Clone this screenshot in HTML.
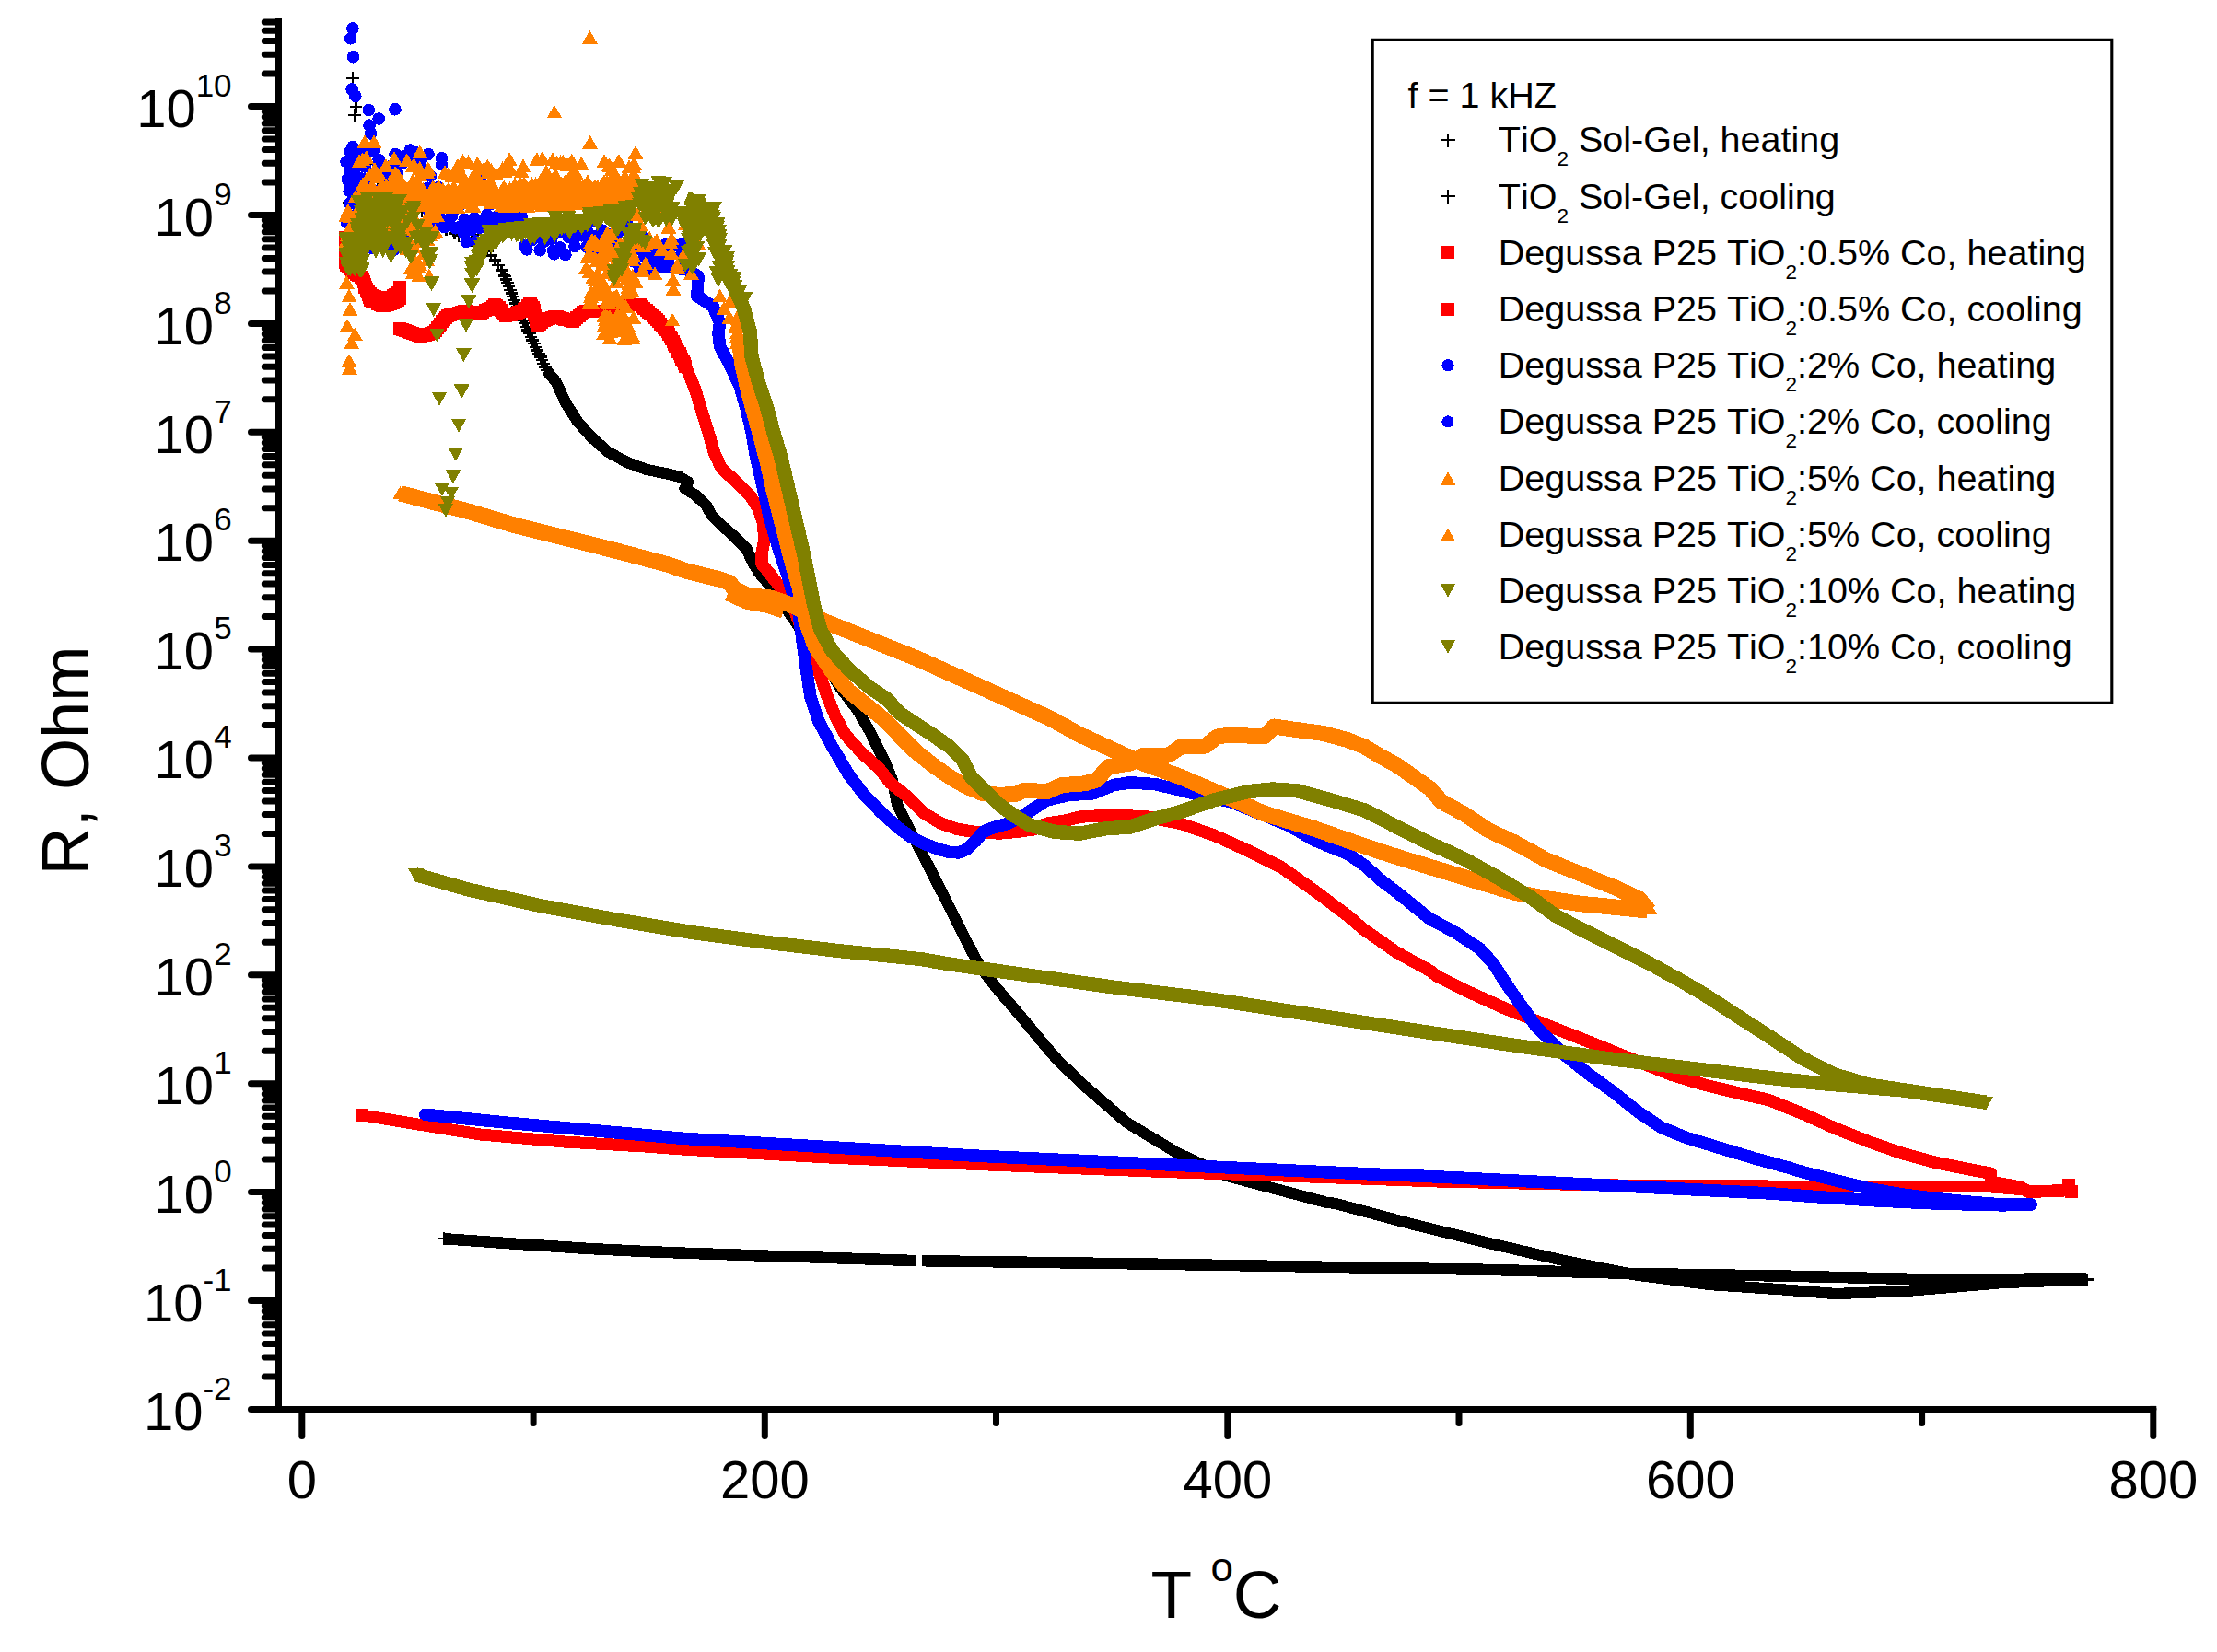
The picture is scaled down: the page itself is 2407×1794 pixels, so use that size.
<!DOCTYPE html>
<html lang="en"><head><meta charset="utf-8"><title>R vs T</title>
<style>html,body{margin:0;padding:0;background:#fff}svg{display:block}</style></head>
<body>
<svg width="2407" height="1794" viewBox="0 0 2407 1794">
<rect width="2407" height="1794" fill="#fff"/>
<g fill="none" stroke-linejoin="round" stroke-linecap="butt" shape-rendering="crispEdges">
<path d="M376.2 85h13.6M383 78.2v13.6M379.7 116h13.6M386.5 109.2v13.6M377.9 125h13.6M384.7 118.2v13.6M372.2 220h13.6M379 213.2v13.6M374.2 224h13.6M381 217.2v13.6M413.2 184h13.6M420 177.2v13.6M456.7 207h13.6M463.5 200.2v13.6M436.7 227h13.6M443.5 220.2v13.6M451.2 229h13.6M458 222.2v13.6M459.2 214h13.6M466 207.2v13.6M395.2 178h13.6M402 171.2v13.6M403.2 196h13.6M410 189.2v13.6M467.2 238h13.6M474 231.2v13.6M477.6 249h13.6M484.4 242.2v13.6M486.7 253.5h13.6M493.5 246.7v13.6M496.6 257h13.6M503.4 250.2v13.6M505.7 260.8h13.6M512.5 254v13.6M512.2 255.3h13.6M519 248.5v13.6M501.2 259h13.6M508 252.2v13.6M491.2 256h13.6M498 249.2v13.6M507.5 260h13.6M514.3 253.2v13.6M512.6 264h13.6M519.4 257.2v13.6M517.7 268h13.6M524.5 261.2v13.6M522.3 272.6h13.6M529.1 265.8v13.6M526.5 277.6h13.6M533.3 270.8v13.6M530.6 282.6h13.6M537.4 275.8v13.6M534.4 287.9h13.6M541.2 281.1v13.6M537.6 293.5h13.6M544.4 286.7v13.6M540.8 299.1h13.6M547.6 292.3v13.6M541.2 299.8h13.6M548 293v13.6M542.7 303.5h13.6M549.5 296.7v13.6M544.2 307.2h13.6M551 300.4v13.6M545.6 311h13.6M552.4 304.2v13.6M547.1 314.7h13.6M553.9 307.9v13.6M548.6 318.4h13.6M555.4 311.6v13.6M550.1 322.1h13.6M556.9 315.3v13.6M551.6 325.8h13.6M558.4 319v13.6M553.2 329.5h13.6M560 322.7v13.6M554.8 333.1h13.6M561.6 326.3v13.6M556.5 336.8h13.6M563.3 330v13.6M558.1 340.4h13.6M564.9 333.6v13.6M559.8 344h13.6M566.6 337.2v13.6M561.4 347.7h13.6M568.2 340.9v13.6M563.1 351.3h13.6M569.9 344.5v13.6M564.7 355h13.6M571.5 348.2v13.6M566.3 358.6h13.6M573.1 351.8v13.6M568 362.3h13.6M574.8 355.5v13.6M569.6 365.9h13.6M576.4 359.1v13.6M571.4 369.5h13.6M578.2 362.7v13.6M573.1 373.2h13.6M579.9 366.4v13.6M574.8 376.8h13.6M581.6 370v13.6M576.5 380.4h13.6M583.3 373.6v13.6M578.2 384h13.6M585 377.2v13.6M579.9 387.6h13.6M586.7 380.8v13.6M581.6 391.2h13.6M588.4 384.4v13.6M583.3 394.8h13.6M590.1 388v13.6M585 398.5h13.6M591.8 391.7v13.6M586.8 402.1h13.6M593.6 395.3v13.6M589.1 405.3h13.6M595.9 398.5v13.6M591.7 408.4h13.6M598.5 401.6v13.6M594.2 411.4h13.6M601 404.6v13.6M596.8 414.5h13.6M603.6 407.7v13.6" stroke="#000" stroke-width="2.3"/>
<polyline points="594,403 603.6,414.5 614.5,438 627.2,458 641.8,474.4 660,490.7 681.7,502.5 701.7,509.8 723.5,514.3 738,518 747,523.4 743.4,530.7 754.3,537 767,548.8 772.5,559.7 781.6,568.8 796,581.5 810.6,596 817,610.6 825,623.3 836,636 896,721.7 912.5,747 930.7,770.7 943.4,792.5 952.4,810.6 961.5,828.8 968.8,847 974.2,874 981.5,888.7 990.8,907 1012.6,949 1030.8,985.3 1049,1021.6 1063.5,1048.9 1081.6,1072.5 1103.4,1097.9 1121.6,1119.7 1139.7,1141.5 1151,1154 1177.9,1179.6 1223.3,1219 1277.4,1251.6 1331.5,1276.8 1385.7,1291.3 1439.8,1305.7 1450,1307 1531,1328.8 1612.4,1349 1693.6,1368 1774.8,1384.3 1856,1395 1937,1400.5 1992.6,1405 2065.3,1402.3 2119.7,1397.8 2174.2,1393 2228.7,1391 2265,1390.5" stroke="#000" stroke-width="12.3" stroke-linecap="butt"/>
<path d="M2259.2 1389.6h13.6M2266 1382.8v13.6" stroke="#000" stroke-width="2.3"/>
<polyline points="482,1345.2 557.9,1350.6 639.6,1356 700,1359 739.5,1360.6 988.7,1368.9 994.5,1369" stroke="#000" stroke-width="12.5" stroke-linecap="butt"/>
<polyline points="1001,1369.2 1241.3,1372.5 1450,1376 1612.4,1378.8 1774.8,1383 1937,1385.6 2050,1388.3 2101.6,1389.5 2174.2,1389 2265,1388" stroke="#000" stroke-width="12.5" stroke-linecap="butt"/>
<path d="M475.2 1345.2h13.6M482 1338.4v13.6" stroke="#000" stroke-width="2.3"/>
<path d="M368 251h14v14h-14zM368 254h14v14h-14zM368 257h14v14h-14zM368 260h14v14h-14zM368 263h14v14h-14zM368 266h14v14h-14zM368 269h14v14h-14zM368 272h14v14h-14zM368 275h14v14h-14zM368 278h14v14h-14zM368.7 280.7h14v14h-14zM371 282.7h14v14h-14zM373.2 284.7h14v14h-14zM375.4 286.7h14v14h-14zM377.7 288.7h14v14h-14zM380 290.6h14v14h-14zM382.4 292.4h14v14h-14zM384.7 294.3h14v14h-14zM387.1 296.2h14v14h-14zM388.2 298.9h14v14h-14zM389 301.7h14v14h-14zM389.8 304.6h14v14h-14zM390.6 307.5h14v14h-14zM391.5 310.4h14v14h-14zM392.7 313.1h14v14h-14zM393.8 315.9h14v14h-14zM394.9 318.7h14v14h-14zM397.4 320.1h14v14h-14zM400.2 321.4h14v14h-14zM402.9 322.7h14v14h-14zM405.6 323.9h14v14h-14zM408.3 325.2h14v14h-14zM411.2 324.9h14v14h-14zM414.1 324.1h14v14h-14zM417 323.3h14v14h-14zM419.6 321.9h14v14h-14zM422 320.2h14v14h-14zM424.5 318.5h14v14h-14zM426.9 316.7h14v14h-14zM427.3 314h14v14h-14zM427.2 311h14v14h-14zM427.1 308h14v14h-14zM427 305h14v14h-14z" fill="#ff0000" stroke="none"/>
<path d="M389 305h14v14h-14zM391 307.2h14v14h-14zM393 309.5h14v14h-14zM395 311.7h14v14h-14zM397 314h14v14h-14zM399.8 314.9h14v14h-14zM402.7 315.9h14v14h-14zM405.5 316.8h14v14h-14zM408.3 317.8h14v14h-14zM411.2 317.3h14v14h-14zM414.1 316.5h14v14h-14zM417 315.6h14v14h-14zM419.7 314.4h14v14h-14zM421.9 312.5h14v14h-14zM424.2 310.5h14v14h-14z" fill="#ff0000" stroke="none"/>
<path d="M427 350h14v14h-14zM429.8 351h14v14h-14zM432.6 352.1h14v14h-14zM435.5 353.1h14v14h-14zM438.3 354.1h14v14h-14zM441.1 355.1h14v14h-14zM443.9 356.2h14v14h-14zM446.7 357.2h14v14h-14zM449.6 357.9h14v14h-14zM452.5 357.2h14v14h-14zM455.4 356.5h14v14h-14zM458.3 355.8h14v14h-14zM461.3 355.2h14v14h-14zM464 354.2h14v14h-14zM465.8 351.8h14v14h-14zM467.6 349.4h14v14h-14zM469.5 347h14v14h-14zM471.3 344.7h14v14h-14zM473.2 342.3h14v14h-14zM475.1 340h14v14h-14zM477 337.7h14v14h-14zM479.3 336h14v14h-14zM482.2 335.2h14v14h-14zM485.1 334.3h14v14h-14zM487.9 333.5h14v14h-14zM490.8 332.6h14v14h-14zM493.7 331.8h14v14h-14zM496.6 331h14v14h-14zM499.6 331.3h14v14h-14zM502.5 331.6h14v14h-14zM505.5 331.9h14v14h-14zM508.5 332.2h14v14h-14zM511.5 332.5h14v14h-14zM514.5 332.8h14v14h-14zM517.2 331.6h14v14h-14zM520 330.4h14v14h-14zM522.7 329.1h14v14h-14zM525.2 327.5h14v14h-14zM527.7 325.9h14v14h-14zM530.2 324.2h14v14h-14zM532.4 325.2h14v14h-14zM534.5 327.4h14v14h-14zM536.6 329.5h14v14h-14zM538.4 331.9h14v14h-14zM540.2 334.3h14v14h-14zM542.2 336.3h14v14h-14zM545 335.4h14v14h-14zM547.9 334.5h14v14h-14zM550.8 333.7h14v14h-14zM553.6 332.8h14v14h-14zM556.4 331.6h14v14h-14zM559.2 330.5h14v14h-14zM562 329.4h14v14h-14zM564.1 327.5h14v14h-14zM565.9 325.1h14v14h-14zM567.7 322.7h14v14h-14zM569.3 321.8h14v14h-14zM570.4 324.6h14v14h-14zM571.6 327.4h14v14h-14zM572.7 330.2h14v14h-14zM573.4 333.1h14v14h-14zM573.9 336h14v14h-14zM574.5 339h14v14h-14zM575.1 341.9h14v14h-14zM575.6 344.9h14v14h-14zM576.6 346.4h14v14h-14zM578.9 344.5h14v14h-14zM581.2 342.5h14v14h-14zM583.6 340.8h14v14h-14zM586.4 339.8h14v14h-14zM589.2 338.8h14v14h-14zM592.1 337.8h14v14h-14zM594.9 336.8h14v14h-14zM597.8 336.9h14v14h-14zM600.6 337.8h14v14h-14zM603.5 338.6h14v14h-14zM606.4 339.5h14v14h-14zM609.3 340.4h14v14h-14zM612.1 341.2h14v14h-14zM614.9 341.5h14v14h-14zM617.1 339.5h14v14h-14zM619.3 337.5h14v14h-14zM621.6 335.5h14v14h-14zM623.9 333.6h14v14h-14zM626.2 331.7h14v14h-14zM629 331h14v14h-14zM632 331h14v14h-14zM635 331h14v14h-14zM638 331h14v14h-14zM641 331h14v14h-14zM644 331h14v14h-14zM647 331h14v14h-14zM650 331h14v14h-14zM652.9 330.4h14v14h-14zM655.8 329.6h14v14h-14zM658.7 328.8h14v14h-14zM661.6 328h14v14h-14zM664.4 327.2h14v14h-14zM667.3 326.4h14v14h-14zM670.3 325.7h14v14h-14zM673.2 324.9h14v14h-14zM676.1 324.2h14v14h-14zM679 323.7h14v14h-14zM682 323.7h14v14h-14zM685 323.7h14v14h-14zM687.8 324.4h14v14h-14zM690.1 326.3h14v14h-14zM692.4 328.2h14v14h-14zM694.6 330.2h14v14h-14zM696.9 332.1h14v14h-14zM699.2 334h14v14h-14zM701.5 336h14v14h-14zM703.7 338.1h14v14h-14zM705.8 340.2h14v14h-14zM707.9 342.3h14v14h-14zM710 344.5h14v14h-14zM712.1 346.6h14v14h-14zM714.2 348.7h14v14h-14zM716.3 350.8h14v14h-14zM717.8 353.4h14v14h-14zM719.3 356.1h14v14h-14zM720.7 358.7h14v14h-14zM722.1 361.3h14v14h-14zM723.6 364h14v14h-14zM725 366.6h14v14h-14zM726.4 369.2h14v14h-14zM727.8 371.9h14v14h-14zM729.2 374.6h14v14h-14zM730.5 377.3h14v14h-14zM731.8 380h14v14h-14zM733.2 382.7h14v14h-14zM734.5 385.3h14v14h-14zM735.8 388h14v14h-14zM737.2 390.7h14v14h-14z" fill="#ff0000" stroke="none"/>
<polyline points="734.4,378 745.3,400 754.3,421.7 761.6,445.3 768.9,469 775.2,490.7 783.4,508.9 799.7,523.4 814.2,538 823.3,552.5 828.8,568.8 829.7,587 827,601.5 827,612.4 836,623.3 847,637.8 858,650 867,674.5 881.6,701.7 888.9,729 898,756 907,778 917.9,798 936,818 954.3,834.3 967,850.6 985,865 1003.3,883.3 1021.4,894 1039.6,900.5 1057.8,903.3 1085,905 1103,903.3 1121.6,900.9 1136.3,894.3 1157.9,890.9 1172.6,887 1209,885.3 1245.3,887 1281.6,894.3 1317.9,907 1354.2,923.4 1390.5,941.5 1426.8,967 1463,994.2 1480,1008.8 1516.3,1034.2 1552.6,1054.2 1560,1060 1596.3,1078 1632.6,1094.5 1669,1109 1705.3,1123.5 1741.6,1138 1777.9,1152.6 1814.2,1167 1850.5,1178 1886.8,1187 1920,1194.4 1956.3,1209 1992.6,1225.3 2029,1239.8 2065.3,1252.5 2101.6,1262.5 2137.9,1269.8 2161.5,1274.3 2161.5,1283.4 2192.4,1288.9 2203,1294.3 2246.8,1292.5 2249,1294" stroke="#ff0000" stroke-width="13.5" stroke-linecap="butt"/>
<path d="M2242 1287h14v14h-14zM2239 1280h14v14h-14z" fill="#ff0000" stroke="none"/>
<polyline points="393,1211 460,1222 521.6,1232 612.4,1240 700,1245 739.5,1248 900,1257 1060,1264.5 1250,1272 1450,1279 1560,1283 1693,1286 1788,1287.5 1920,1288 2010,1288.5 2156,1288.5 2200,1292" stroke="#ff0000" stroke-width="13" stroke-linecap="butt"/>
<path d="M386 1204h14v14h-14z" fill="#ff0000" stroke="none"/>
<path d="M376.1 30.9a6.8 6.8 0 1 0 13.6 0a6.8 6.8 0 1 0 -13.6 0zM373.9 41.8a6.8 6.8 0 1 0 13.6 0a6.8 6.8 0 1 0 -13.6 0zM376.8 61.8a6.8 6.8 0 1 0 13.6 0a6.8 6.8 0 1 0 -13.6 0zM375.3 97a6.8 6.8 0 1 0 13.6 0a6.8 6.8 0 1 0 -13.6 0zM379 104.3a6.8 6.8 0 1 0 13.6 0a6.8 6.8 0 1 0 -13.6 0zM393.5 119.5a6.8 6.8 0 1 0 13.6 0a6.8 6.8 0 1 0 -13.6 0zM422.1 118.8a6.8 6.8 0 1 0 13.6 0a6.8 6.8 0 1 0 -13.6 0zM404.4 129a6.8 6.8 0 1 0 13.6 0a6.8 6.8 0 1 0 -13.6 0zM394.2 136.2a6.8 6.8 0 1 0 13.6 0a6.8 6.8 0 1 0 -13.6 0zM395.7 145a6.8 6.8 0 1 0 13.6 0a6.8 6.8 0 1 0 -13.6 0zM376.1 159.5a6.8 6.8 0 1 0 13.6 0a6.8 6.8 0 1 0 -13.6 0zM438.5 163a6.8 6.8 0 1 0 13.6 0a6.8 6.8 0 1 0 -13.6 0zM431.2 170a6.8 6.8 0 1 0 13.6 0a6.8 6.8 0 1 0 -13.6 0zM445.2 166a6.8 6.8 0 1 0 13.6 0a6.8 6.8 0 1 0 -13.6 0zM458.2 167.4a6.8 6.8 0 1 0 13.6 0a6.8 6.8 0 1 0 -13.6 0zM472.7 171.8a6.8 6.8 0 1 0 13.6 0a6.8 6.8 0 1 0 -13.6 0zM518.4 188.5a6.8 6.8 0 1 0 13.6 0a6.8 6.8 0 1 0 -13.6 0zM543.8 185.6a6.8 6.8 0 1 0 13.6 0a6.8 6.8 0 1 0 -13.6 0zM389.1 202a6.8 6.8 0 1 0 13.6 0a6.8 6.8 0 1 0 -13.6 0zM409.9 194.9a6.8 6.8 0 1 0 13.6 0a6.8 6.8 0 1 0 -13.6 0zM391.5 204.1a6.8 6.8 0 1 0 13.6 0a6.8 6.8 0 1 0 -13.6 0zM377.3 198.4a6.8 6.8 0 1 0 13.6 0a6.8 6.8 0 1 0 -13.6 0zM396.9 219.5a6.8 6.8 0 1 0 13.6 0a6.8 6.8 0 1 0 -13.6 0zM373.3 182.8a6.8 6.8 0 1 0 13.6 0a6.8 6.8 0 1 0 -13.6 0zM373.2 220.7a6.8 6.8 0 1 0 13.6 0a6.8 6.8 0 1 0 -13.6 0zM399.7 163.1a6.8 6.8 0 1 0 13.6 0a6.8 6.8 0 1 0 -13.6 0zM412.4 232.4a6.8 6.8 0 1 0 13.6 0a6.8 6.8 0 1 0 -13.6 0zM398 206.2a6.8 6.8 0 1 0 13.6 0a6.8 6.8 0 1 0 -13.6 0zM376.1 161.1a6.8 6.8 0 1 0 13.6 0a6.8 6.8 0 1 0 -13.6 0zM392.4 164.5a6.8 6.8 0 1 0 13.6 0a6.8 6.8 0 1 0 -13.6 0zM377.6 178.1a6.8 6.8 0 1 0 13.6 0a6.8 6.8 0 1 0 -13.6 0zM370.5 194.8a6.8 6.8 0 1 0 13.6 0a6.8 6.8 0 1 0 -13.6 0zM388.6 223.2a6.8 6.8 0 1 0 13.6 0a6.8 6.8 0 1 0 -13.6 0zM392 208a6.8 6.8 0 1 0 13.6 0a6.8 6.8 0 1 0 -13.6 0zM391.2 209.7a6.8 6.8 0 1 0 13.6 0a6.8 6.8 0 1 0 -13.6 0zM389.3 180.9a6.8 6.8 0 1 0 13.6 0a6.8 6.8 0 1 0 -13.6 0zM413.1 234.7a6.8 6.8 0 1 0 13.6 0a6.8 6.8 0 1 0 -13.6 0zM406.2 213.1a6.8 6.8 0 1 0 13.6 0a6.8 6.8 0 1 0 -13.6 0zM383.1 177.2a6.8 6.8 0 1 0 13.6 0a6.8 6.8 0 1 0 -13.6 0zM381.9 165.3a6.8 6.8 0 1 0 13.6 0a6.8 6.8 0 1 0 -13.6 0zM402.9 190a6.8 6.8 0 1 0 13.6 0a6.8 6.8 0 1 0 -13.6 0zM406.4 189a6.8 6.8 0 1 0 13.6 0a6.8 6.8 0 1 0 -13.6 0zM411.4 223.5a6.8 6.8 0 1 0 13.6 0a6.8 6.8 0 1 0 -13.6 0zM369.2 175.7a6.8 6.8 0 1 0 13.6 0a6.8 6.8 0 1 0 -13.6 0zM409.3 195.2a6.8 6.8 0 1 0 13.6 0a6.8 6.8 0 1 0 -13.6 0zM412.3 189.8a6.8 6.8 0 1 0 13.6 0a6.8 6.8 0 1 0 -13.6 0zM372.4 207.2a6.8 6.8 0 1 0 13.6 0a6.8 6.8 0 1 0 -13.6 0zM403.5 180.2a6.8 6.8 0 1 0 13.6 0a6.8 6.8 0 1 0 -13.6 0zM373 184.9a6.8 6.8 0 1 0 13.6 0a6.8 6.8 0 1 0 -13.6 0zM411.6 216.9a6.8 6.8 0 1 0 13.6 0a6.8 6.8 0 1 0 -13.6 0zM374.4 178.5a6.8 6.8 0 1 0 13.6 0a6.8 6.8 0 1 0 -13.6 0zM373.6 164.5a6.8 6.8 0 1 0 13.6 0a6.8 6.8 0 1 0 -13.6 0zM404.3 173.3a6.8 6.8 0 1 0 13.6 0a6.8 6.8 0 1 0 -13.6 0zM393.8 193.6a6.8 6.8 0 1 0 13.6 0a6.8 6.8 0 1 0 -13.6 0zM377.6 214.9a6.8 6.8 0 1 0 13.6 0a6.8 6.8 0 1 0 -13.6 0zM375 208.3a6.8 6.8 0 1 0 13.6 0a6.8 6.8 0 1 0 -13.6 0zM374.3 191.6a6.8 6.8 0 1 0 13.6 0a6.8 6.8 0 1 0 -13.6 0zM378.6 180.2a6.8 6.8 0 1 0 13.6 0a6.8 6.8 0 1 0 -13.6 0zM411.9 220.3a6.8 6.8 0 1 0 13.6 0a6.8 6.8 0 1 0 -13.6 0zM382.6 226.4a6.8 6.8 0 1 0 13.6 0a6.8 6.8 0 1 0 -13.6 0zM378.5 189.6a6.8 6.8 0 1 0 13.6 0a6.8 6.8 0 1 0 -13.6 0zM406.8 208.1a6.8 6.8 0 1 0 13.6 0a6.8 6.8 0 1 0 -13.6 0zM373.6 234.2a6.8 6.8 0 1 0 13.6 0a6.8 6.8 0 1 0 -13.6 0zM378.6 179.4a6.8 6.8 0 1 0 13.6 0a6.8 6.8 0 1 0 -13.6 0zM403.2 184.7a6.8 6.8 0 1 0 13.6 0a6.8 6.8 0 1 0 -13.6 0zM382.2 165.5a6.8 6.8 0 1 0 13.6 0a6.8 6.8 0 1 0 -13.6 0zM373.2 203.7a6.8 6.8 0 1 0 13.6 0a6.8 6.8 0 1 0 -13.6 0zM379.9 205.1a6.8 6.8 0 1 0 13.6 0a6.8 6.8 0 1 0 -13.6 0zM385.6 194a6.8 6.8 0 1 0 13.6 0a6.8 6.8 0 1 0 -13.6 0zM411.4 196.3a6.8 6.8 0 1 0 13.6 0a6.8 6.8 0 1 0 -13.6 0zM394.5 225a6.8 6.8 0 1 0 13.6 0a6.8 6.8 0 1 0 -13.6 0zM377.2 171.6a6.8 6.8 0 1 0 13.6 0a6.8 6.8 0 1 0 -13.6 0zM409.2 221.3a6.8 6.8 0 1 0 13.6 0a6.8 6.8 0 1 0 -13.6 0zM429.4 177.7a6.8 6.8 0 1 0 13.6 0a6.8 6.8 0 1 0 -13.6 0zM461.3 228a6.8 6.8 0 1 0 13.6 0a6.8 6.8 0 1 0 -13.6 0zM426 228.7a6.8 6.8 0 1 0 13.6 0a6.8 6.8 0 1 0 -13.6 0zM470.5 205.4a6.8 6.8 0 1 0 13.6 0a6.8 6.8 0 1 0 -13.6 0zM440.6 172a6.8 6.8 0 1 0 13.6 0a6.8 6.8 0 1 0 -13.6 0zM415.7 229.5a6.8 6.8 0 1 0 13.6 0a6.8 6.8 0 1 0 -13.6 0zM428.7 212.2a6.8 6.8 0 1 0 13.6 0a6.8 6.8 0 1 0 -13.6 0zM429.9 220.2a6.8 6.8 0 1 0 13.6 0a6.8 6.8 0 1 0 -13.6 0zM452 184.7a6.8 6.8 0 1 0 13.6 0a6.8 6.8 0 1 0 -13.6 0zM424.6 213.3a6.8 6.8 0 1 0 13.6 0a6.8 6.8 0 1 0 -13.6 0zM417.7 180.3a6.8 6.8 0 1 0 13.6 0a6.8 6.8 0 1 0 -13.6 0zM449.6 222.1a6.8 6.8 0 1 0 13.6 0a6.8 6.8 0 1 0 -13.6 0zM453.1 183.8a6.8 6.8 0 1 0 13.6 0a6.8 6.8 0 1 0 -13.6 0zM472.8 178.7a6.8 6.8 0 1 0 13.6 0a6.8 6.8 0 1 0 -13.6 0zM414.3 183a6.8 6.8 0 1 0 13.6 0a6.8 6.8 0 1 0 -13.6 0zM442.2 169.1a6.8 6.8 0 1 0 13.6 0a6.8 6.8 0 1 0 -13.6 0zM424.7 189.7a6.8 6.8 0 1 0 13.6 0a6.8 6.8 0 1 0 -13.6 0zM450.4 173.8a6.8 6.8 0 1 0 13.6 0a6.8 6.8 0 1 0 -13.6 0zM436.7 224.7a6.8 6.8 0 1 0 13.6 0a6.8 6.8 0 1 0 -13.6 0zM476.9 209a6.8 6.8 0 1 0 13.6 0a6.8 6.8 0 1 0 -13.6 0zM458.1 204.2a6.8 6.8 0 1 0 13.6 0a6.8 6.8 0 1 0 -13.6 0zM422.3 167.4a6.8 6.8 0 1 0 13.6 0a6.8 6.8 0 1 0 -13.6 0zM414.4 226a6.8 6.8 0 1 0 13.6 0a6.8 6.8 0 1 0 -13.6 0zM458.8 229.5a6.8 6.8 0 1 0 13.6 0a6.8 6.8 0 1 0 -13.6 0zM414.6 207.6a6.8 6.8 0 1 0 13.6 0a6.8 6.8 0 1 0 -13.6 0zM444.5 213.9a6.8 6.8 0 1 0 13.6 0a6.8 6.8 0 1 0 -13.6 0zM433.9 232a6.8 6.8 0 1 0 13.6 0a6.8 6.8 0 1 0 -13.6 0zM418.1 201.6a6.8 6.8 0 1 0 13.6 0a6.8 6.8 0 1 0 -13.6 0zM461.1 225.3a6.8 6.8 0 1 0 13.6 0a6.8 6.8 0 1 0 -13.6 0zM461.1 212.1a6.8 6.8 0 1 0 13.6 0a6.8 6.8 0 1 0 -13.6 0zM464.8 226.3a6.8 6.8 0 1 0 13.6 0a6.8 6.8 0 1 0 -13.6 0zM436.1 210.9a6.8 6.8 0 1 0 13.6 0a6.8 6.8 0 1 0 -13.6 0zM471.8 223.4a6.8 6.8 0 1 0 13.6 0a6.8 6.8 0 1 0 -13.6 0zM440.3 218a6.8 6.8 0 1 0 13.6 0a6.8 6.8 0 1 0 -13.6 0zM469.3 203.4a6.8 6.8 0 1 0 13.6 0a6.8 6.8 0 1 0 -13.6 0zM453.8 190.6a6.8 6.8 0 1 0 13.6 0a6.8 6.8 0 1 0 -13.6 0zM451.1 205.8a6.8 6.8 0 1 0 13.6 0a6.8 6.8 0 1 0 -13.6 0zM418.4 207.8a6.8 6.8 0 1 0 13.6 0a6.8 6.8 0 1 0 -13.6 0zM477.8 223.9a6.8 6.8 0 1 0 13.6 0a6.8 6.8 0 1 0 -13.6 0zM460.5 191a6.8 6.8 0 1 0 13.6 0a6.8 6.8 0 1 0 -13.6 0zM461 203.9a6.8 6.8 0 1 0 13.6 0a6.8 6.8 0 1 0 -13.6 0zM441.8 221.2a6.8 6.8 0 1 0 13.6 0a6.8 6.8 0 1 0 -13.6 0zM418.6 215.3a6.8 6.8 0 1 0 13.6 0a6.8 6.8 0 1 0 -13.6 0zM415.1 205.3a6.8 6.8 0 1 0 13.6 0a6.8 6.8 0 1 0 -13.6 0zM444.5 180.4a6.8 6.8 0 1 0 13.6 0a6.8 6.8 0 1 0 -13.6 0zM462.6 218a6.8 6.8 0 1 0 13.6 0a6.8 6.8 0 1 0 -13.6 0zM462.6 215.6a6.8 6.8 0 1 0 13.6 0a6.8 6.8 0 1 0 -13.6 0zM467.1 231.3a6.8 6.8 0 1 0 13.6 0a6.8 6.8 0 1 0 -13.6 0zM468.4 243.8a6.8 6.8 0 1 0 13.6 0a6.8 6.8 0 1 0 -13.6 0zM471.3 237.2a6.8 6.8 0 1 0 13.6 0a6.8 6.8 0 1 0 -13.6 0zM474.9 225.5a6.8 6.8 0 1 0 13.6 0a6.8 6.8 0 1 0 -13.6 0zM472.1 240.7a6.8 6.8 0 1 0 13.6 0a6.8 6.8 0 1 0 -13.6 0zM475.9 246.7a6.8 6.8 0 1 0 13.6 0a6.8 6.8 0 1 0 -13.6 0zM479.4 244.9a6.8 6.8 0 1 0 13.6 0a6.8 6.8 0 1 0 -13.6 0zM482.1 218.1a6.8 6.8 0 1 0 13.6 0a6.8 6.8 0 1 0 -13.6 0zM484 231.8a6.8 6.8 0 1 0 13.6 0a6.8 6.8 0 1 0 -13.6 0zM483.7 234.9a6.8 6.8 0 1 0 13.6 0a6.8 6.8 0 1 0 -13.6 0zM488 247.8a6.8 6.8 0 1 0 13.6 0a6.8 6.8 0 1 0 -13.6 0zM490.3 225.9a6.8 6.8 0 1 0 13.6 0a6.8 6.8 0 1 0 -13.6 0zM489.9 220.4a6.8 6.8 0 1 0 13.6 0a6.8 6.8 0 1 0 -13.6 0zM492.6 248.2a6.8 6.8 0 1 0 13.6 0a6.8 6.8 0 1 0 -13.6 0zM493.5 245.9a6.8 6.8 0 1 0 13.6 0a6.8 6.8 0 1 0 -13.6 0zM497 253.8a6.8 6.8 0 1 0 13.6 0a6.8 6.8 0 1 0 -13.6 0zM497.4 238.2a6.8 6.8 0 1 0 13.6 0a6.8 6.8 0 1 0 -13.6 0zM499.4 262.5a6.8 6.8 0 1 0 13.6 0a6.8 6.8 0 1 0 -13.6 0zM504.2 246.6a6.8 6.8 0 1 0 13.6 0a6.8 6.8 0 1 0 -13.6 0zM504.9 249.7a6.8 6.8 0 1 0 13.6 0a6.8 6.8 0 1 0 -13.6 0zM506.9 246.7a6.8 6.8 0 1 0 13.6 0a6.8 6.8 0 1 0 -13.6 0zM508.2 236.6a6.8 6.8 0 1 0 13.6 0a6.8 6.8 0 1 0 -13.6 0zM509.8 262.1a6.8 6.8 0 1 0 13.6 0a6.8 6.8 0 1 0 -13.6 0zM513.7 247.1a6.8 6.8 0 1 0 13.6 0a6.8 6.8 0 1 0 -13.6 0zM514.6 246.4a6.8 6.8 0 1 0 13.6 0a6.8 6.8 0 1 0 -13.6 0zM517.6 239.4a6.8 6.8 0 1 0 13.6 0a6.8 6.8 0 1 0 -13.6 0zM519.4 246.7a6.8 6.8 0 1 0 13.6 0a6.8 6.8 0 1 0 -13.6 0zM520.1 236.7a6.8 6.8 0 1 0 13.6 0a6.8 6.8 0 1 0 -13.6 0zM521.8 233.6a6.8 6.8 0 1 0 13.6 0a6.8 6.8 0 1 0 -13.6 0zM526.8 221.3a6.8 6.8 0 1 0 13.6 0a6.8 6.8 0 1 0 -13.6 0zM527.1 236.3a6.8 6.8 0 1 0 13.6 0a6.8 6.8 0 1 0 -13.6 0zM528.7 242a6.8 6.8 0 1 0 13.6 0a6.8 6.8 0 1 0 -13.6 0zM533.4 241.2a6.8 6.8 0 1 0 13.6 0a6.8 6.8 0 1 0 -13.6 0zM533.6 234.4a6.8 6.8 0 1 0 13.6 0a6.8 6.8 0 1 0 -13.6 0zM535.8 247.9a6.8 6.8 0 1 0 13.6 0a6.8 6.8 0 1 0 -13.6 0zM537.6 229.2a6.8 6.8 0 1 0 13.6 0a6.8 6.8 0 1 0 -13.6 0zM538.5 229.3a6.8 6.8 0 1 0 13.6 0a6.8 6.8 0 1 0 -13.6 0zM540.5 249a6.8 6.8 0 1 0 13.6 0a6.8 6.8 0 1 0 -13.6 0zM545.3 236.7a6.8 6.8 0 1 0 13.6 0a6.8 6.8 0 1 0 -13.6 0zM549.2 232.7a6.8 6.8 0 1 0 13.6 0a6.8 6.8 0 1 0 -13.6 0zM550.3 245.6a6.8 6.8 0 1 0 13.6 0a6.8 6.8 0 1 0 -13.6 0zM549 224.2a6.8 6.8 0 1 0 13.6 0a6.8 6.8 0 1 0 -13.6 0zM552 246.4a6.8 6.8 0 1 0 13.6 0a6.8 6.8 0 1 0 -13.6 0zM556.8 228.9a6.8 6.8 0 1 0 13.6 0a6.8 6.8 0 1 0 -13.6 0zM557.9 238.1a6.8 6.8 0 1 0 13.6 0a6.8 6.8 0 1 0 -13.6 0zM557.2 238.2a6.8 6.8 0 1 0 13.6 0a6.8 6.8 0 1 0 -13.6 0zM558.8 228.5a6.8 6.8 0 1 0 13.6 0a6.8 6.8 0 1 0 -13.6 0zM559.2 235.4a6.8 6.8 0 1 0 13.6 0a6.8 6.8 0 1 0 -13.6 0zM562.9 266.9a6.8 6.8 0 1 0 13.6 0a6.8 6.8 0 1 0 -13.6 0zM567.7 246.8a6.8 6.8 0 1 0 13.6 0a6.8 6.8 0 1 0 -13.6 0zM562.5 247.8a6.8 6.8 0 1 0 13.6 0a6.8 6.8 0 1 0 -13.6 0zM565.1 270.9a6.8 6.8 0 1 0 13.6 0a6.8 6.8 0 1 0 -13.6 0zM568.8 248.2a6.8 6.8 0 1 0 13.6 0a6.8 6.8 0 1 0 -13.6 0zM571.4 260.3a6.8 6.8 0 1 0 13.6 0a6.8 6.8 0 1 0 -13.6 0zM569.7 251.2a6.8 6.8 0 1 0 13.6 0a6.8 6.8 0 1 0 -13.6 0zM573.9 256.7a6.8 6.8 0 1 0 13.6 0a6.8 6.8 0 1 0 -13.6 0zM576.6 254a6.8 6.8 0 1 0 13.6 0a6.8 6.8 0 1 0 -13.6 0zM578.8 252.3a6.8 6.8 0 1 0 13.6 0a6.8 6.8 0 1 0 -13.6 0zM579.3 271.8a6.8 6.8 0 1 0 13.6 0a6.8 6.8 0 1 0 -13.6 0zM583.4 262.6a6.8 6.8 0 1 0 13.6 0a6.8 6.8 0 1 0 -13.6 0zM582.6 257.7a6.8 6.8 0 1 0 13.6 0a6.8 6.8 0 1 0 -13.6 0zM588.3 248.1a6.8 6.8 0 1 0 13.6 0a6.8 6.8 0 1 0 -13.6 0zM590.9 256.7a6.8 6.8 0 1 0 13.6 0a6.8 6.8 0 1 0 -13.6 0zM592 259.6a6.8 6.8 0 1 0 13.6 0a6.8 6.8 0 1 0 -13.6 0zM593.8 272.2a6.8 6.8 0 1 0 13.6 0a6.8 6.8 0 1 0 -13.6 0zM595 275.9a6.8 6.8 0 1 0 13.6 0a6.8 6.8 0 1 0 -13.6 0zM596.6 253.3a6.8 6.8 0 1 0 13.6 0a6.8 6.8 0 1 0 -13.6 0zM601 251.6a6.8 6.8 0 1 0 13.6 0a6.8 6.8 0 1 0 -13.6 0zM601.5 268.9a6.8 6.8 0 1 0 13.6 0a6.8 6.8 0 1 0 -13.6 0zM606 244.2a6.8 6.8 0 1 0 13.6 0a6.8 6.8 0 1 0 -13.6 0zM607.1 276.7a6.8 6.8 0 1 0 13.6 0a6.8 6.8 0 1 0 -13.6 0zM610.3 257.1a6.8 6.8 0 1 0 13.6 0a6.8 6.8 0 1 0 -13.6 0zM609.7 256.1a6.8 6.8 0 1 0 13.6 0a6.8 6.8 0 1 0 -13.6 0zM611.1 255.9a6.8 6.8 0 1 0 13.6 0a6.8 6.8 0 1 0 -13.6 0zM614.7 256.7a6.8 6.8 0 1 0 13.6 0a6.8 6.8 0 1 0 -13.6 0zM618.9 255.9a6.8 6.8 0 1 0 13.6 0a6.8 6.8 0 1 0 -13.6 0zM617.2 267.5a6.8 6.8 0 1 0 13.6 0a6.8 6.8 0 1 0 -13.6 0zM620 254a6.8 6.8 0 1 0 13.6 0a6.8 6.8 0 1 0 -13.6 0zM623.6 254.9a6.8 6.8 0 1 0 13.6 0a6.8 6.8 0 1 0 -13.6 0zM624.5 255.8a6.8 6.8 0 1 0 13.6 0a6.8 6.8 0 1 0 -13.6 0zM631.4 252.5a6.8 6.8 0 1 0 13.6 0a6.8 6.8 0 1 0 -13.6 0zM630.2 268.1a6.8 6.8 0 1 0 13.6 0a6.8 6.8 0 1 0 -13.6 0zM633.7 264.9a6.8 6.8 0 1 0 13.6 0a6.8 6.8 0 1 0 -13.6 0zM636.1 240.3a6.8 6.8 0 1 0 13.6 0a6.8 6.8 0 1 0 -13.6 0zM635.7 259.2a6.8 6.8 0 1 0 13.6 0a6.8 6.8 0 1 0 -13.6 0zM639.9 269.6a6.8 6.8 0 1 0 13.6 0a6.8 6.8 0 1 0 -13.6 0zM642.1 255.9a6.8 6.8 0 1 0 13.6 0a6.8 6.8 0 1 0 -13.6 0zM643.6 256.1a6.8 6.8 0 1 0 13.6 0a6.8 6.8 0 1 0 -13.6 0zM646.1 263.8a6.8 6.8 0 1 0 13.6 0a6.8 6.8 0 1 0 -13.6 0zM647.4 250.2a6.8 6.8 0 1 0 13.6 0a6.8 6.8 0 1 0 -13.6 0zM648.8 267.2a6.8 6.8 0 1 0 13.6 0a6.8 6.8 0 1 0 -13.6 0zM654.2 266a6.8 6.8 0 1 0 13.6 0a6.8 6.8 0 1 0 -13.6 0zM655.8 264.4a6.8 6.8 0 1 0 13.6 0a6.8 6.8 0 1 0 -13.6 0zM656.7 262.6a6.8 6.8 0 1 0 13.6 0a6.8 6.8 0 1 0 -13.6 0zM657.3 254.6a6.8 6.8 0 1 0 13.6 0a6.8 6.8 0 1 0 -13.6 0zM660 262.8a6.8 6.8 0 1 0 13.6 0a6.8 6.8 0 1 0 -13.6 0zM662.4 255a6.8 6.8 0 1 0 13.6 0a6.8 6.8 0 1 0 -13.6 0zM666 268a6.8 6.8 0 1 0 13.6 0a6.8 6.8 0 1 0 -13.6 0zM666.4 247.1a6.8 6.8 0 1 0 13.6 0a6.8 6.8 0 1 0 -13.6 0zM671.1 245.4a6.8 6.8 0 1 0 13.6 0a6.8 6.8 0 1 0 -13.6 0zM672.7 250a6.8 6.8 0 1 0 13.6 0a6.8 6.8 0 1 0 -13.6 0zM674 238.3a6.8 6.8 0 1 0 13.6 0a6.8 6.8 0 1 0 -13.6 0zM677.3 249.4a6.8 6.8 0 1 0 13.6 0a6.8 6.8 0 1 0 -13.6 0zM676.9 271.9a6.8 6.8 0 1 0 13.6 0a6.8 6.8 0 1 0 -13.6 0zM681.4 284a6.8 6.8 0 1 0 13.6 0a6.8 6.8 0 1 0 -13.6 0zM683.1 248.6a6.8 6.8 0 1 0 13.6 0a6.8 6.8 0 1 0 -13.6 0zM684.7 265.4a6.8 6.8 0 1 0 13.6 0a6.8 6.8 0 1 0 -13.6 0zM686.5 254.3a6.8 6.8 0 1 0 13.6 0a6.8 6.8 0 1 0 -13.6 0zM397.5 249.8a6.8 6.8 0 1 0 13.6 0a6.8 6.8 0 1 0 -13.6 0zM396.1 239.4a6.8 6.8 0 1 0 13.6 0a6.8 6.8 0 1 0 -13.6 0zM382.9 259a6.8 6.8 0 1 0 13.6 0a6.8 6.8 0 1 0 -13.6 0zM369.8 242a6.8 6.8 0 1 0 13.6 0a6.8 6.8 0 1 0 -13.6 0zM392.4 266.9a6.8 6.8 0 1 0 13.6 0a6.8 6.8 0 1 0 -13.6 0zM402.1 239a6.8 6.8 0 1 0 13.6 0a6.8 6.8 0 1 0 -13.6 0zM386.4 261.5a6.8 6.8 0 1 0 13.6 0a6.8 6.8 0 1 0 -13.6 0zM386.3 259a6.8 6.8 0 1 0 13.6 0a6.8 6.8 0 1 0 -13.6 0zM375.6 237.5a6.8 6.8 0 1 0 13.6 0a6.8 6.8 0 1 0 -13.6 0zM372.8 236.3a6.8 6.8 0 1 0 13.6 0a6.8 6.8 0 1 0 -13.6 0zM388 253a6.8 6.8 0 1 0 13.6 0a6.8 6.8 0 1 0 -13.6 0zM388.5 240.1a6.8 6.8 0 1 0 13.6 0a6.8 6.8 0 1 0 -13.6 0zM375.5 242.1a6.8 6.8 0 1 0 13.6 0a6.8 6.8 0 1 0 -13.6 0zM397.8 269.7a6.8 6.8 0 1 0 13.6 0a6.8 6.8 0 1 0 -13.6 0zM400.7 238.3a6.8 6.8 0 1 0 13.6 0a6.8 6.8 0 1 0 -13.6 0zM371.3 268.3a6.8 6.8 0 1 0 13.6 0a6.8 6.8 0 1 0 -13.6 0zM384.9 261.8a6.8 6.8 0 1 0 13.6 0a6.8 6.8 0 1 0 -13.6 0zM380.3 251.3a6.8 6.8 0 1 0 13.6 0a6.8 6.8 0 1 0 -13.6 0zM386.7 250.1a6.8 6.8 0 1 0 13.6 0a6.8 6.8 0 1 0 -13.6 0zM389.6 235.5a6.8 6.8 0 1 0 13.6 0a6.8 6.8 0 1 0 -13.6 0zM393 264.5a6.8 6.8 0 1 0 13.6 0a6.8 6.8 0 1 0 -13.6 0zM375.4 250.9a6.8 6.8 0 1 0 13.6 0a6.8 6.8 0 1 0 -13.6 0zM394.3 249.2a6.8 6.8 0 1 0 13.6 0a6.8 6.8 0 1 0 -13.6 0zM375.8 240.8a6.8 6.8 0 1 0 13.6 0a6.8 6.8 0 1 0 -13.6 0zM386.6 235.5a6.8 6.8 0 1 0 13.6 0a6.8 6.8 0 1 0 -13.6 0zM399.6 263.1a6.8 6.8 0 1 0 13.6 0a6.8 6.8 0 1 0 -13.6 0zM393.2 265.1a6.8 6.8 0 1 0 13.6 0a6.8 6.8 0 1 0 -13.6 0zM390.6 249.2a6.8 6.8 0 1 0 13.6 0a6.8 6.8 0 1 0 -13.6 0zM389.6 252.7a6.8 6.8 0 1 0 13.6 0a6.8 6.8 0 1 0 -13.6 0zM402.6 263.2a6.8 6.8 0 1 0 13.6 0a6.8 6.8 0 1 0 -13.6 0zM420.9 271.1a6.8 6.8 0 1 0 13.6 0a6.8 6.8 0 1 0 -13.6 0zM435.5 269.8a6.8 6.8 0 1 0 13.6 0a6.8 6.8 0 1 0 -13.6 0zM437.6 266.1a6.8 6.8 0 1 0 13.6 0a6.8 6.8 0 1 0 -13.6 0zM440.1 270.8a6.8 6.8 0 1 0 13.6 0a6.8 6.8 0 1 0 -13.6 0zM434 269.7a6.8 6.8 0 1 0 13.6 0a6.8 6.8 0 1 0 -13.6 0zM436.2 266.1a6.8 6.8 0 1 0 13.6 0a6.8 6.8 0 1 0 -13.6 0zM434.9 262.7a6.8 6.8 0 1 0 13.6 0a6.8 6.8 0 1 0 -13.6 0zM423.5 266.7a6.8 6.8 0 1 0 13.6 0a6.8 6.8 0 1 0 -13.6 0zM413.5 265.6a6.8 6.8 0 1 0 13.6 0a6.8 6.8 0 1 0 -13.6 0zM432.4 268.2a6.8 6.8 0 1 0 13.6 0a6.8 6.8 0 1 0 -13.6 0zM696.8 293.3a6.8 6.8 0 1 0 13.6 0a6.8 6.8 0 1 0 -13.6 0zM718.5 274.5a6.8 6.8 0 1 0 13.6 0a6.8 6.8 0 1 0 -13.6 0zM718.2 281.7a6.8 6.8 0 1 0 13.6 0a6.8 6.8 0 1 0 -13.6 0zM711.9 276.1a6.8 6.8 0 1 0 13.6 0a6.8 6.8 0 1 0 -13.6 0zM735.2 283.9a6.8 6.8 0 1 0 13.6 0a6.8 6.8 0 1 0 -13.6 0zM720.3 287.6a6.8 6.8 0 1 0 13.6 0a6.8 6.8 0 1 0 -13.6 0zM734.2 264.7a6.8 6.8 0 1 0 13.6 0a6.8 6.8 0 1 0 -13.6 0zM716 286.9a6.8 6.8 0 1 0 13.6 0a6.8 6.8 0 1 0 -13.6 0zM698 276.4a6.8 6.8 0 1 0 13.6 0a6.8 6.8 0 1 0 -13.6 0zM687.7 270.1a6.8 6.8 0 1 0 13.6 0a6.8 6.8 0 1 0 -13.6 0zM704 267.1a6.8 6.8 0 1 0 13.6 0a6.8 6.8 0 1 0 -13.6 0zM697.7 292.1a6.8 6.8 0 1 0 13.6 0a6.8 6.8 0 1 0 -13.6 0zM712.7 279.7a6.8 6.8 0 1 0 13.6 0a6.8 6.8 0 1 0 -13.6 0zM733.6 281.6a6.8 6.8 0 1 0 13.6 0a6.8 6.8 0 1 0 -13.6 0zM735 283.8a6.8 6.8 0 1 0 13.6 0a6.8 6.8 0 1 0 -13.6 0zM725.7 266.4a6.8 6.8 0 1 0 13.6 0a6.8 6.8 0 1 0 -13.6 0zM715.1 287.5a6.8 6.8 0 1 0 13.6 0a6.8 6.8 0 1 0 -13.6 0zM687.5 292.8a6.8 6.8 0 1 0 13.6 0a6.8 6.8 0 1 0 -13.6 0zM693.2 278.6a6.8 6.8 0 1 0 13.6 0a6.8 6.8 0 1 0 -13.6 0zM693.7 279.4a6.8 6.8 0 1 0 13.6 0a6.8 6.8 0 1 0 -13.6 0zM715.8 265.8a6.8 6.8 0 1 0 13.6 0a6.8 6.8 0 1 0 -13.6 0zM732.5 277a6.8 6.8 0 1 0 13.6 0a6.8 6.8 0 1 0 -13.6 0zM711.5 282.5a6.8 6.8 0 1 0 13.6 0a6.8 6.8 0 1 0 -13.6 0zM703.5 272.9a6.8 6.8 0 1 0 13.6 0a6.8 6.8 0 1 0 -13.6 0zM718 281.4a6.8 6.8 0 1 0 13.6 0a6.8 6.8 0 1 0 -13.6 0zM699.4 286.2a6.8 6.8 0 1 0 13.6 0a6.8 6.8 0 1 0 -13.6 0zM700 264.4a6.8 6.8 0 1 0 13.6 0a6.8 6.8 0 1 0 -13.6 0zM697.5 265.3a6.8 6.8 0 1 0 13.6 0a6.8 6.8 0 1 0 -13.6 0z" fill="#0000ff" stroke="none"/>
<polyline points="694,250 701.7,270.7 709,288 730.7,291 745,292.5 758,300 757,321.6 774.3,333 781.6,350.6 780,362 781.6,376.3 792.5,396.3 803.4,420 810.6,445.3 816,469 820.6,496.2 827,523.4 835,560 845,595 856.2,629 867,665.4 870.7,692.6 874.4,719.9 879.8,756 888.9,783.4 903.4,810.6 921.6,841.5 939.7,865 957.9,883.3 976,899.6 990,909.5 1003.6,916.3 1017,921.5 1030.8,925.4 1041,925.8 1049,922.7 1059.8,912.7 1067,903.6 1076,899.6 1094,894.3 1112,885 1124,877 1136.3,869 1160,863.5 1187,861.7 1209,852.6 1227,849.8 1254.3,851.7 1281.6,858 1308.8,865 1336,870.5 1372.4,885.5 1399.6,896.5 1426.8,912.5 1463,927 1481.3,939.7 1499.5,956 1516.3,968.8 1552.6,997.9 1579.9,1012.4 1607,1030.6 1621.6,1046.9 1634.3,1066.9 1650.8,1090.8 1669,1116.3 1696,1143.5 1723.4,1165.3 1750.7,1185.3 1777.9,1207 1805,1225 1832.4,1236 1868.7,1247 1905,1257.9 1941.3,1267.9 1956.3,1272.5 1992.6,1281.6 2029,1290.7 2065.3,1297 2101.6,1301.6 2137.9,1305.2 2174.2,1308 2205,1308" stroke="#0000ff" stroke-width="13.6" stroke-linecap="round"/>
<polyline points="461.7,1210.3 557.9,1219.9 648.7,1228 739.5,1236.2 1060.9,1255.2 1450,1273.3 1560,1277.9 1650.8,1282.4 1741.6,1287 1832.4,1291.5 1923,1296 1974.5,1299.8 2029,1303.4 2101.6,1307 2174.2,1308.8 2205,1308" stroke="#0000ff" stroke-width="13.6" stroke-linecap="round"/>
<path d="M640.4 33l8.4 14.6h-16.8zM601.9 113.7l8.4 14.6h-16.8zM640.4 147.8l8.4 14.6h-16.8zM396 146.4l8.4 14.6h-16.8zM406 146.4l8.4 14.6h-16.8zM455.8 157.3l8.4 14.6h-16.8zM428 164l8.4 14.6h-16.8zM553.2 165.3l8.4 14.6h-16.8zM582.9 165.3l8.4 14.6h-16.8zM600 165.3l8.4 14.6h-16.8zM640.7 147l8.4 14.6h-16.8zM690 158l8.4 14.6h-16.8zM727.8 255.5l8.4 14.6h-16.8zM729 267l8.4 14.6h-16.8zM730.7 296l8.4 14.6h-16.8zM731 306l8.4 14.6h-16.8zM730 339.7l8.4 14.6h-16.8zM781.6 313.6l8.4 14.6h-16.8zM793 319l8.4 14.6h-16.8zM799 345.5l8.4 14.6h-16.8zM800.5 364l8.4 14.6h-16.8zM786 327l8.4 14.6h-16.8zM792 337l8.4 14.6h-16.8zM376.3 226.5l8.4 14.6h-16.8zM379 241l8.4 14.6h-16.8zM376 254l8.4 14.6h-16.8zM378 268l8.4 14.6h-16.8zM376.3 299l8.4 14.6h-16.8zM379 313.6l8.4 14.6h-16.8zM380 328l8.4 14.6h-16.8zM377 346l8.4 14.6h-16.8zM385.4 355.4l8.4 14.6h-16.8zM381.8 364.5l8.4 14.6h-16.8zM379 384l8.4 14.6h-16.8zM379.6 392l8.4 14.6h-16.8zM393.6 213.6l8.4 14.6h-16.8zM395.4 217.2l8.4 14.6h-16.8zM397.6 195.1l8.4 14.6h-16.8zM399.3 218.3l8.4 14.6h-16.8zM396.5 217.2l8.4 14.6h-16.8zM398.7 206l8.4 14.6h-16.8zM401.7 199.9l8.4 14.6h-16.8zM400.7 217.9l8.4 14.6h-16.8zM402.3 205.6l8.4 14.6h-16.8zM404.1 214.6l8.4 14.6h-16.8zM403.4 196.3l8.4 14.6h-16.8zM404.3 205.1l8.4 14.6h-16.8zM403.4 194.5l8.4 14.6h-16.8zM405.5 196.3l8.4 14.6h-16.8zM405.9 210.4l8.4 14.6h-16.8zM406.8 199.8l8.4 14.6h-16.8zM408.1 203.8l8.4 14.6h-16.8zM409.7 206.6l8.4 14.6h-16.8zM411.3 217.5l8.4 14.6h-16.8zM411.1 198.9l8.4 14.6h-16.8zM409.4 215.8l8.4 14.6h-16.8zM412.9 208.8l8.4 14.6h-16.8zM412 199.5l8.4 14.6h-16.8zM414.1 207.1l8.4 14.6h-16.8zM414.5 208.8l8.4 14.6h-16.8zM415.9 197.2l8.4 14.6h-16.8zM414.7 217.7l8.4 14.6h-16.8zM418.2 215l8.4 14.6h-16.8zM415.5 193.6l8.4 14.6h-16.8zM417.2 203l8.4 14.6h-16.8zM419.4 194.6l8.4 14.6h-16.8zM419.9 193.7l8.4 14.6h-16.8zM418.9 209.4l8.4 14.6h-16.8zM421.5 208.1l8.4 14.6h-16.8zM421.6 204.1l8.4 14.6h-16.8zM421.7 200.5l8.4 14.6h-16.8zM424.7 213.3l8.4 14.6h-16.8zM422.8 194.6l8.4 14.6h-16.8zM426.5 207.6l8.4 14.6h-16.8zM427.2 196.8l8.4 14.6h-16.8zM426.6 197.9l8.4 14.6h-16.8zM428.9 200.8l8.4 14.6h-16.8zM429.1 216.8l8.4 14.6h-16.8zM428.6 205.3l8.4 14.6h-16.8zM431.1 214.9l8.4 14.6h-16.8zM430.6 200.6l8.4 14.6h-16.8zM430.1 213.8l8.4 14.6h-16.8zM430.8 193.2l8.4 14.6h-16.8zM433.5 203.7l8.4 14.6h-16.8zM434.8 198.8l8.4 14.6h-16.8zM436 193.1l8.4 14.6h-16.8zM434.5 208.3l8.4 14.6h-16.8zM434.8 199l8.4 14.6h-16.8zM438.2 209.2l8.4 14.6h-16.8zM437.2 194.9l8.4 14.6h-16.8zM438.3 210.1l8.4 14.6h-16.8zM439.1 194.3l8.4 14.6h-16.8zM441.3 206l8.4 14.6h-16.8zM442.9 215.7l8.4 14.6h-16.8zM443.7 202.7l8.4 14.6h-16.8zM444.1 199.2l8.4 14.6h-16.8zM442.9 201.7l8.4 14.6h-16.8zM446.2 214.6l8.4 14.6h-16.8zM444.3 200.8l8.4 14.6h-16.8zM445.5 200.8l8.4 14.6h-16.8zM446.4 201.5l8.4 14.6h-16.8zM446.4 206.1l8.4 14.6h-16.8zM449.7 205.5l8.4 14.6h-16.8zM450.6 206.1l8.4 14.6h-16.8zM448.8 211.2l8.4 14.6h-16.8zM452.4 198.8l8.4 14.6h-16.8zM449.8 204.9l8.4 14.6h-16.8zM452.6 206.3l8.4 14.6h-16.8zM455.1 208.5l8.4 14.6h-16.8zM455.3 193.2l8.4 14.6h-16.8zM455.1 212.1l8.4 14.6h-16.8zM454 193.7l8.4 14.6h-16.8zM457.4 215l8.4 14.6h-16.8zM455.6 208.1l8.4 14.6h-16.8zM456.6 211.1l8.4 14.6h-16.8zM459.5 198.1l8.4 14.6h-16.8zM458.5 211.6l8.4 14.6h-16.8zM460.5 211.6l8.4 14.6h-16.8zM460.8 200.5l8.4 14.6h-16.8zM463.9 209.3l8.4 14.6h-16.8zM462.8 205.8l8.4 14.6h-16.8zM464.5 210.2l8.4 14.6h-16.8zM466.1 202.5l8.4 14.6h-16.8zM466.6 209.2l8.4 14.6h-16.8zM467.5 212.8l8.4 14.6h-16.8zM468.2 215l8.4 14.6h-16.8zM469.5 208.6l8.4 14.6h-16.8zM468.6 210.4l8.4 14.6h-16.8zM470.5 202.9l8.4 14.6h-16.8zM469.7 195.8l8.4 14.6h-16.8zM471.8 217.7l8.4 14.6h-16.8zM471.2 196.3l8.4 14.6h-16.8zM471.3 203l8.4 14.6h-16.8zM472.4 217.1l8.4 14.6h-16.8zM472.3 199.9l8.4 14.6h-16.8zM473.3 208.7l8.4 14.6h-16.8zM476.8 196.5l8.4 14.6h-16.8zM474.7 203.8l8.4 14.6h-16.8zM477.6 215.5l8.4 14.6h-16.8zM476.2 194.6l8.4 14.6h-16.8zM477.6 197.4l8.4 14.6h-16.8zM478.6 210.4l8.4 14.6h-16.8zM480.8 197.6l8.4 14.6h-16.8zM480 199.1l8.4 14.6h-16.8zM480.7 211.4l8.4 14.6h-16.8zM482.1 206l8.4 14.6h-16.8zM484.9 204.2l8.4 14.6h-16.8zM483.5 214.8l8.4 14.6h-16.8zM486.9 200.6l8.4 14.6h-16.8zM486.2 216.5l8.4 14.6h-16.8zM486.8 197.4l8.4 14.6h-16.8zM485.9 216.3l8.4 14.6h-16.8zM489.7 201.6l8.4 14.6h-16.8zM489.4 205l8.4 14.6h-16.8zM489.2 217.3l8.4 14.6h-16.8zM491.5 197.7l8.4 14.6h-16.8zM489.7 203.8l8.4 14.6h-16.8zM491.9 212.2l8.4 14.6h-16.8zM494.1 207.3l8.4 14.6h-16.8zM492.7 195.6l8.4 14.6h-16.8zM494.1 198.2l8.4 14.6h-16.8zM497.1 204.9l8.4 14.6h-16.8zM497 217.3l8.4 14.6h-16.8zM496.3 205.3l8.4 14.6h-16.8zM496.7 211.4l8.4 14.6h-16.8zM496.9 212.7l8.4 14.6h-16.8zM501 212.8l8.4 14.6h-16.8zM498.8 198.4l8.4 14.6h-16.8zM502.1 193.9l8.4 14.6h-16.8zM502 203.5l8.4 14.6h-16.8zM504.7 206.6l8.4 14.6h-16.8zM505.1 199.2l8.4 14.6h-16.8zM505.6 202.1l8.4 14.6h-16.8zM506.9 193.6l8.4 14.6h-16.8zM507.4 196.7l8.4 14.6h-16.8zM507 204.9l8.4 14.6h-16.8zM506.3 212.8l8.4 14.6h-16.8zM507.7 199.3l8.4 14.6h-16.8zM507.6 199.1l8.4 14.6h-16.8zM509.9 209.8l8.4 14.6h-16.8zM510.3 209l8.4 14.6h-16.8zM510.1 201.4l8.4 14.6h-16.8zM512.3 216.3l8.4 14.6h-16.8zM514.6 208.1l8.4 14.6h-16.8zM512.1 200.9l8.4 14.6h-16.8zM515.7 197.2l8.4 14.6h-16.8zM515.9 203l8.4 14.6h-16.8zM514.5 216.8l8.4 14.6h-16.8zM518.4 196.4l8.4 14.6h-16.8zM518.5 198.6l8.4 14.6h-16.8zM518.4 205l8.4 14.6h-16.8zM518.8 199.7l8.4 14.6h-16.8zM520 208.3l8.4 14.6h-16.8zM520.3 196.2l8.4 14.6h-16.8zM523 199.5l8.4 14.6h-16.8zM524.6 205.6l8.4 14.6h-16.8zM524.5 199.5l8.4 14.6h-16.8zM525.8 193.3l8.4 14.6h-16.8zM523.8 193.4l8.4 14.6h-16.8zM526.8 209.3l8.4 14.6h-16.8zM525.6 201.3l8.4 14.6h-16.8zM529 206.3l8.4 14.6h-16.8zM526.8 196.8l8.4 14.6h-16.8zM527.9 194.1l8.4 14.6h-16.8zM529.7 192.7l8.4 14.6h-16.8zM532.5 201.9l8.4 14.6h-16.8zM531.7 207.7l8.4 14.6h-16.8zM533.5 212.2l8.4 14.6h-16.8zM532.8 199.4l8.4 14.6h-16.8zM533.7 191.2l8.4 14.6h-16.8zM534.5 209l8.4 14.6h-16.8zM537.6 211.3l8.4 14.6h-16.8zM537.1 206.6l8.4 14.6h-16.8zM535.3 199.4l8.4 14.6h-16.8zM537.4 207.7l8.4 14.6h-16.8zM537.3 200.6l8.4 14.6h-16.8zM539.7 211.2l8.4 14.6h-16.8zM541.7 206.6l8.4 14.6h-16.8zM539.9 210.6l8.4 14.6h-16.8zM543.7 204.9l8.4 14.6h-16.8zM542.3 203.7l8.4 14.6h-16.8zM542.2 209.2l8.4 14.6h-16.8zM546.4 204.1l8.4 14.6h-16.8zM546.1 212.4l8.4 14.6h-16.8zM544.8 215.2l8.4 14.6h-16.8zM547.4 195.8l8.4 14.6h-16.8zM546 197l8.4 14.6h-16.8zM548.8 208.7l8.4 14.6h-16.8zM548.6 214.8l8.4 14.6h-16.8zM549.5 202.6l8.4 14.6h-16.8zM549.3 215.9l8.4 14.6h-16.8zM550.2 214.1l8.4 14.6h-16.8zM552.6 205.1l8.4 14.6h-16.8zM553.5 197.4l8.4 14.6h-16.8zM555.7 216.3l8.4 14.6h-16.8zM556.1 206.2l8.4 14.6h-16.8zM554.1 212l8.4 14.6h-16.8zM555.6 213.8l8.4 14.6h-16.8zM556.2 205.4l8.4 14.6h-16.8zM559.4 195.3l8.4 14.6h-16.8zM559 192.5l8.4 14.6h-16.8zM557.8 195.2l8.4 14.6h-16.8zM562.4 214.9l8.4 14.6h-16.8zM561.9 198.5l8.4 14.6h-16.8zM562.7 209.6l8.4 14.6h-16.8zM562.4 205.8l8.4 14.6h-16.8zM564.9 190.8l8.4 14.6h-16.8zM563.2 202.6l8.4 14.6h-16.8zM563.8 200.5l8.4 14.6h-16.8zM566.3 194.9l8.4 14.6h-16.8zM566.9 197.2l8.4 14.6h-16.8zM567.9 199l8.4 14.6h-16.8zM569 191.3l8.4 14.6h-16.8zM569.9 194.1l8.4 14.6h-16.8zM571.9 205.9l8.4 14.6h-16.8zM570.7 201l8.4 14.6h-16.8zM572.1 208.2l8.4 14.6h-16.8zM573.5 209.9l8.4 14.6h-16.8zM573.2 216.2l8.4 14.6h-16.8zM575.4 212.5l8.4 14.6h-16.8zM574.5 201.6l8.4 14.6h-16.8zM575.9 213.8l8.4 14.6h-16.8zM576.5 203.9l8.4 14.6h-16.8zM577 213.8l8.4 14.6h-16.8zM577.3 191.7l8.4 14.6h-16.8zM579.7 213.6l8.4 14.6h-16.8zM580.6 205.8l8.4 14.6h-16.8zM581.5 198.1l8.4 14.6h-16.8zM581.6 192l8.4 14.6h-16.8zM580.5 201.8l8.4 14.6h-16.8zM582.9 200.5l8.4 14.6h-16.8zM581.9 208.2l8.4 14.6h-16.8zM584.5 196.4l8.4 14.6h-16.8zM584.5 200.4l8.4 14.6h-16.8zM585 191.9l8.4 14.6h-16.8zM588.5 215.3l8.4 14.6h-16.8zM588.3 212.7l8.4 14.6h-16.8zM588.1 211.1l8.4 14.6h-16.8zM588.1 209.5l8.4 14.6h-16.8zM590.3 213.6l8.4 14.6h-16.8zM589.2 210.7l8.4 14.6h-16.8zM590.1 204.1l8.4 14.6h-16.8zM594.2 190.1l8.4 14.6h-16.8zM592.2 197.8l8.4 14.6h-16.8zM593.3 191.7l8.4 14.6h-16.8zM596.4 211.2l8.4 14.6h-16.8zM595.2 199.3l8.4 14.6h-16.8zM596.8 191.2l8.4 14.6h-16.8zM595.4 213.4l8.4 14.6h-16.8zM597.3 203l8.4 14.6h-16.8zM600.6 215.4l8.4 14.6h-16.8zM599.5 195.3l8.4 14.6h-16.8zM599.6 213.9l8.4 14.6h-16.8zM602.8 195l8.4 14.6h-16.8zM603.4 199.1l8.4 14.6h-16.8zM602.7 194.3l8.4 14.6h-16.8zM605.2 215.7l8.4 14.6h-16.8zM603.2 206.3l8.4 14.6h-16.8zM604 212.7l8.4 14.6h-16.8zM604.2 192.5l8.4 14.6h-16.8zM607.7 197.9l8.4 14.6h-16.8zM609.2 212.3l8.4 14.6h-16.8zM609.3 193.2l8.4 14.6h-16.8zM610 214l8.4 14.6h-16.8zM609.8 191.7l8.4 14.6h-16.8zM609.7 197.6l8.4 14.6h-16.8zM612.5 194.7l8.4 14.6h-16.8zM611.2 195.7l8.4 14.6h-16.8zM613.9 210.1l8.4 14.6h-16.8zM613.5 206.7l8.4 14.6h-16.8zM616.4 204.8l8.4 14.6h-16.8zM614.6 197.3l8.4 14.6h-16.8zM618.1 206.8l8.4 14.6h-16.8zM616.3 206l8.4 14.6h-16.8zM616.4 214.9l8.4 14.6h-16.8zM618.6 203.1l8.4 14.6h-16.8zM619.8 190.5l8.4 14.6h-16.8zM620.8 196.7l8.4 14.6h-16.8zM620.2 210.1l8.4 14.6h-16.8zM620.4 196.6l8.4 14.6h-16.8zM623.9 195.6l8.4 14.6h-16.8zM622.7 203.4l8.4 14.6h-16.8zM623.2 212.5l8.4 14.6h-16.8zM627.2 190l8.4 14.6h-16.8zM625.9 208.6l8.4 14.6h-16.8zM626.4 213.2l8.4 14.6h-16.8zM627.6 193.7l8.4 14.6h-16.8zM628.7 205.8l8.4 14.6h-16.8zM628.7 206.1l8.4 14.6h-16.8zM631.2 202.4l8.4 14.6h-16.8zM630.8 210.9l8.4 14.6h-16.8zM632.4 202.4l8.4 14.6h-16.8zM634.2 193.4l8.4 14.6h-16.8zM634.3 193.2l8.4 14.6h-16.8zM634.5 195l8.4 14.6h-16.8zM634.6 208.9l8.4 14.6h-16.8zM636.8 209.4l8.4 14.6h-16.8zM635.4 201.5l8.4 14.6h-16.8zM636.1 203.8l8.4 14.6h-16.8zM638 189.6l8.4 14.6h-16.8zM639.2 207.3l8.4 14.6h-16.8zM639.9 211.3l8.4 14.6h-16.8zM639.1 192.6l8.4 14.6h-16.8zM639.3 201.5l8.4 14.6h-16.8zM641.8 200.1l8.4 14.6h-16.8zM641.9 209.3l8.4 14.6h-16.8zM641.9 212.1l8.4 14.6h-16.8zM644.7 202.6l8.4 14.6h-16.8zM646.4 194.7l8.4 14.6h-16.8zM644.6 196.5l8.4 14.6h-16.8zM645 196.6l8.4 14.6h-16.8zM648.1 202l8.4 14.6h-16.8zM647.5 203.7l8.4 14.6h-16.8zM647.6 209.7l8.4 14.6h-16.8zM648.7 194.9l8.4 14.6h-16.8zM649.5 206.2l8.4 14.6h-16.8zM652.9 208.7l8.4 14.6h-16.8zM650.7 198.9l8.4 14.6h-16.8zM652.7 193.8l8.4 14.6h-16.8zM655.9 189.3l8.4 14.6h-16.8zM654.8 207.9l8.4 14.6h-16.8zM657.6 191.9l8.4 14.6h-16.8zM656.2 207.5l8.4 14.6h-16.8zM655.4 194.3l8.4 14.6h-16.8zM659.6 191.7l8.4 14.6h-16.8zM658.4 195.8l8.4 14.6h-16.8zM659.3 190l8.4 14.6h-16.8zM658.5 213.8l8.4 14.6h-16.8zM662.2 206.9l8.4 14.6h-16.8zM660.9 194.3l8.4 14.6h-16.8zM663 193.8l8.4 14.6h-16.8zM663.4 211.7l8.4 14.6h-16.8zM663.8 196.1l8.4 14.6h-16.8zM667.1 203.1l8.4 14.6h-16.8zM664.1 197.6l8.4 14.6h-16.8zM667.3 188.5l8.4 14.6h-16.8zM666.9 204.9l8.4 14.6h-16.8zM669.8 202.1l8.4 14.6h-16.8zM670.7 198.7l8.4 14.6h-16.8zM669.5 208.4l8.4 14.6h-16.8zM670.2 206.7l8.4 14.6h-16.8zM670.3 195.3l8.4 14.6h-16.8zM671 200.5l8.4 14.6h-16.8zM671.7 191.3l8.4 14.6h-16.8zM672.7 198.1l8.4 14.6h-16.8zM673.9 197.4l8.4 14.6h-16.8zM677.4 203.4l8.4 14.6h-16.8zM677.7 190.9l8.4 14.6h-16.8zM676.6 187.4l8.4 14.6h-16.8zM678.6 194.8l8.4 14.6h-16.8zM677.7 185.7l8.4 14.6h-16.8zM678.1 191.9l8.4 14.6h-16.8zM679.8 209l8.4 14.6h-16.8zM681.8 191.9l8.4 14.6h-16.8zM681.2 188.8l8.4 14.6h-16.8zM684.3 194l8.4 14.6h-16.8zM684.4 203.3l8.4 14.6h-16.8zM685.8 184.9l8.4 14.6h-16.8zM684.2 194.3l8.4 14.6h-16.8zM684.1 207.1l8.4 14.6h-16.8zM685.8 204.1l8.4 14.6h-16.8zM687.4 185.4l8.4 14.6h-16.8zM687.7 190l8.4 14.6h-16.8zM687.1 187.6l8.4 14.6h-16.8zM690.1 184.4l8.4 14.6h-16.8zM689.7 194.5l8.4 14.6h-16.8zM691.4 186.9l8.4 14.6h-16.8zM692.9 190l8.4 14.6h-16.8zM693.8 200.5l8.4 14.6h-16.8zM692.2 188.3l8.4 14.6h-16.8zM518.4 184.5l8.4 14.6h-16.8zM548.9 176l8.4 14.6h-16.8zM661.3 171.8l8.4 14.6h-16.8zM521.3 174.9l8.4 14.6h-16.8zM502.6 167l8.4 14.6h-16.8zM456 182.4l8.4 14.6h-16.8zM588.1 187l8.4 14.6h-16.8zM688 173.7l8.4 14.6h-16.8zM613.6 189.9l8.4 14.6h-16.8zM502.8 183.9l8.4 14.6h-16.8zM612.6 190.8l8.4 14.6h-16.8zM661.9 172.1l8.4 14.6h-16.8zM604.3 168.3l8.4 14.6h-16.8zM554.4 176.2l8.4 14.6h-16.8zM464.7 175.9l8.4 14.6h-16.8zM530.1 178.9l8.4 14.6h-16.8zM518.3 170.1l8.4 14.6h-16.8zM548.2 178.3l8.4 14.6h-16.8zM490.7 183.3l8.4 14.6h-16.8zM508.5 168.4l8.4 14.6h-16.8zM533.4 176.9l8.4 14.6h-16.8zM486.8 181.1l8.4 14.6h-16.8zM621.1 180.4l8.4 14.6h-16.8zM620.8 166.6l8.4 14.6h-16.8zM545.5 175.4l8.4 14.6h-16.8zM465.4 176.5l8.4 14.6h-16.8zM463.3 178.9l8.4 14.6h-16.8zM593 178.2l8.4 14.6h-16.8zM529.4 172.6l8.4 14.6h-16.8zM455.7 175l8.4 14.6h-16.8zM667.6 180.7l8.4 14.6h-16.8zM513.9 183.3l8.4 14.6h-16.8zM495.4 178.2l8.4 14.6h-16.8zM600.1 190.8l8.4 14.6h-16.8zM538.5 181l8.4 14.6h-16.8zM679.9 186l8.4 14.6h-16.8zM603.1 182.1l8.4 14.6h-16.8zM550.3 176.8l8.4 14.6h-16.8zM517.4 187.5l8.4 14.6h-16.8zM664.7 175.9l8.4 14.6h-16.8zM671.9 167l8.4 14.6h-16.8zM483.1 179.2l8.4 14.6h-16.8zM525.3 175.3l8.4 14.6h-16.8zM688.4 169.9l8.4 14.6h-16.8zM497 171.9l8.4 14.6h-16.8zM429.5 180.7l8.4 14.6h-16.8zM386.1 205.5l8.4 14.6h-16.8zM411.2 181.1l8.4 14.6h-16.8zM417.6 214l8.4 14.6h-16.8zM421.1 211.9l8.4 14.6h-16.8zM421.9 228.5l8.4 14.6h-16.8zM448 188.7l8.4 14.6h-16.8zM408.2 232.9l8.4 14.6h-16.8zM406.1 219.2l8.4 14.6h-16.8zM430.5 216.9l8.4 14.6h-16.8zM447.7 227.9l8.4 14.6h-16.8zM396.2 211.7l8.4 14.6h-16.8zM417.4 207.1l8.4 14.6h-16.8zM409.6 184.8l8.4 14.6h-16.8zM433.9 204.7l8.4 14.6h-16.8zM401.2 181.9l8.4 14.6h-16.8zM406.8 176.2l8.4 14.6h-16.8zM418.9 172l8.4 14.6h-16.8zM390 167.5l8.4 14.6h-16.8zM392.5 218.4l8.4 14.6h-16.8zM393.2 198.1l8.4 14.6h-16.8zM435.4 200.4l8.4 14.6h-16.8zM396.4 231.3l8.4 14.6h-16.8zM441.7 166.2l8.4 14.6h-16.8zM402.2 202.6l8.4 14.6h-16.8zM437 193.4l8.4 14.6h-16.8zM431.8 182.1l8.4 14.6h-16.8zM431.8 188.1l8.4 14.6h-16.8zM407.4 222.7l8.4 14.6h-16.8zM439.9 228.3l8.4 14.6h-16.8zM422.3 195.6l8.4 14.6h-16.8zM431.2 211.8l8.4 14.6h-16.8zM439.2 226.1l8.4 14.6h-16.8zM394 192.1l8.4 14.6h-16.8zM428.8 180.5l8.4 14.6h-16.8zM397.8 163.1l8.4 14.6h-16.8zM423.5 237.3l8.4 14.6h-16.8zM448.1 172.7l8.4 14.6h-16.8zM430 195.5l8.4 14.6h-16.8zM426.4 193.7l8.4 14.6h-16.8zM445.7 241.1l8.4 14.6h-16.8zM389.1 219l8.4 14.6h-16.8zM393.6 165.4l8.4 14.6h-16.8zM404.3 220.5l8.4 14.6h-16.8zM449.6 171.6l8.4 14.6h-16.8zM378 220.9l8.4 14.6h-16.8zM381.1 254.2l8.4 14.6h-16.8zM378.6 241.5l8.4 14.6h-16.8zM385 280.2l8.4 14.6h-16.8zM377.3 247.6l8.4 14.6h-16.8zM382.3 274.8l8.4 14.6h-16.8zM387.7 247.4l8.4 14.6h-16.8zM383.4 258.8l8.4 14.6h-16.8zM385 229.7l8.4 14.6h-16.8zM375.6 226.8l8.4 14.6h-16.8zM387 237.3l8.4 14.6h-16.8zM380.3 227.8l8.4 14.6h-16.8zM449.7 228.2l8.4 14.6h-16.8zM457 236.3l8.4 14.6h-16.8zM458.8 244.8l8.4 14.6h-16.8zM446.8 258.3l8.4 14.6h-16.8zM451 243.8l8.4 14.6h-16.8zM441.5 231.2l8.4 14.6h-16.8zM466.8 247.1l8.4 14.6h-16.8zM442.4 238.8l8.4 14.6h-16.8zM454.5 291.8l8.4 14.6h-16.8zM446.1 283.3l8.4 14.6h-16.8zM454.5 253.9l8.4 14.6h-16.8zM464.2 252.7l8.4 14.6h-16.8zM441.7 262.8l8.4 14.6h-16.8zM459.7 267.5l8.4 14.6h-16.8zM448.3 288l8.4 14.6h-16.8zM465.9 291.6l8.4 14.6h-16.8zM453.3 281.2l8.4 14.6h-16.8zM461.7 238.4l8.4 14.6h-16.8zM440.8 237.9l8.4 14.6h-16.8zM443.6 231.8l8.4 14.6h-16.8zM450.8 276l8.4 14.6h-16.8zM449.3 260.4l8.4 14.6h-16.8zM440.3 240.6l8.4 14.6h-16.8zM468.8 227.7l8.4 14.6h-16.8zM455.8 279.6l8.4 14.6h-16.8zM463.8 274.8l8.4 14.6h-16.8zM466 244.7l8.4 14.6h-16.8zM472.4 243.1l8.4 14.6h-16.8zM474.8 211.7l8.4 14.6h-16.8zM474.3 225.9l8.4 14.6h-16.8zM470.6 218.7l8.4 14.6h-16.8zM473.6 208.1l8.4 14.6h-16.8zM468.7 217.6l8.4 14.6h-16.8zM465.8 224.3l8.4 14.6h-16.8zM469.9 245.1l8.4 14.6h-16.8zM465.5 237l8.4 14.6h-16.8zM655.1 265.7l8.4 14.6h-16.8zM684.9 269.1l8.4 14.6h-16.8zM641.1 270.1l8.4 14.6h-16.8zM676 260.5l8.4 14.6h-16.8zM676.1 286.6l8.4 14.6h-16.8zM672.7 257.8l8.4 14.6h-16.8zM641.7 255.1l8.4 14.6h-16.8zM654.9 277.6l8.4 14.6h-16.8zM636.5 283.2l8.4 14.6h-16.8zM657.8 269l8.4 14.6h-16.8zM665 318.2l8.4 14.6h-16.8zM647.1 312.6l8.4 14.6h-16.8zM653.3 302.8l8.4 14.6h-16.8zM641.9 321l8.4 14.6h-16.8zM659.2 319.1l8.4 14.6h-16.8zM647.9 275.8l8.4 14.6h-16.8zM674.1 257.8l8.4 14.6h-16.8zM650.8 296.8l8.4 14.6h-16.8zM687.2 269.1l8.4 14.6h-16.8zM645.9 271.8l8.4 14.6h-16.8zM689.4 255.5l8.4 14.6h-16.8zM670.3 273.5l8.4 14.6h-16.8zM670.8 260.5l8.4 14.6h-16.8zM669.3 313.2l8.4 14.6h-16.8zM682.2 293l8.4 14.6h-16.8zM663.3 288.3l8.4 14.6h-16.8zM642.2 309.3l8.4 14.6h-16.8zM673.3 279.3l8.4 14.6h-16.8zM671.9 276.7l8.4 14.6h-16.8zM656.8 261.9l8.4 14.6h-16.8zM668.4 288.6l8.4 14.6h-16.8zM663.8 246.5l8.4 14.6h-16.8zM669.9 278.8l8.4 14.6h-16.8zM668 290.3l8.4 14.6h-16.8zM686.3 255.8l8.4 14.6h-16.8zM661.3 321.4l8.4 14.6h-16.8zM675.9 268.4l8.4 14.6h-16.8zM675.8 321.1l8.4 14.6h-16.8zM657.7 311.6l8.4 14.6h-16.8zM642.8 321.2l8.4 14.6h-16.8zM662.5 262.2l8.4 14.6h-16.8zM681.4 294.6l8.4 14.6h-16.8zM686.6 308.7l8.4 14.6h-16.8zM679.1 283.9l8.4 14.6h-16.8zM689.7 249l8.4 14.6h-16.8zM683 299.5l8.4 14.6h-16.8zM649.5 306.9l8.4 14.6h-16.8zM660.5 285.8l8.4 14.6h-16.8zM682.7 259.3l8.4 14.6h-16.8zM651.1 294.2l8.4 14.6h-16.8zM640 287.3l8.4 14.6h-16.8zM678.5 282.2l8.4 14.6h-16.8zM649.1 306.4l8.4 14.6h-16.8zM682.2 304.1l8.4 14.6h-16.8zM665.7 314.6l8.4 14.6h-16.8zM679 255.8l8.4 14.6h-16.8zM655.8 251.8l8.4 14.6h-16.8zM638 270.9l8.4 14.6h-16.8zM682.7 309l8.4 14.6h-16.8zM642.3 258.1l8.4 14.6h-16.8zM657 310.2l8.4 14.6h-16.8zM669.3 314.3l8.4 14.6h-16.8zM639.9 321l8.4 14.6h-16.8zM647.2 293l8.4 14.6h-16.8zM683.3 300.7l8.4 14.6h-16.8zM646.6 296.1l8.4 14.6h-16.8zM659.3 245.2l8.4 14.6h-16.8zM654.3 268.6l8.4 14.6h-16.8zM670 265.7l8.4 14.6h-16.8zM668.6 298.2l8.4 14.6h-16.8zM645.8 254l8.4 14.6h-16.8zM673.5 280.4l8.4 14.6h-16.8zM643 253l8.4 14.6h-16.8zM686.8 291.6l8.4 14.6h-16.8zM655.3 259.3l8.4 14.6h-16.8zM689.7 297.9l8.4 14.6h-16.8zM675.8 272.1l8.4 14.6h-16.8zM652.8 275.8l8.4 14.6h-16.8zM643.9 293.2l8.4 14.6h-16.8zM658.9 307.9l8.4 14.6h-16.8zM658.1 279.6l8.4 14.6h-16.8zM663.4 317.4l8.4 14.6h-16.8zM654.7 298.9l8.4 14.6h-16.8zM648.7 289.2l8.4 14.6h-16.8zM651.4 312l8.4 14.6h-16.8zM651.5 310.6l8.4 14.6h-16.8zM672.5 279.5l8.4 14.6h-16.8zM686.4 274.2l8.4 14.6h-16.8zM676.1 290.9l8.4 14.6h-16.8zM660.2 249l8.4 14.6h-16.8zM658.6 265.9l8.4 14.6h-16.8zM659.8 318.4l8.4 14.6h-16.8zM651.8 298.2l8.4 14.6h-16.8zM672.3 263.1l8.4 14.6h-16.8zM658.2 254.3l8.4 14.6h-16.8zM684.3 263.6l8.4 14.6h-16.8zM658.7 270.6l8.4 14.6h-16.8zM680.3 310.3l8.4 14.6h-16.8zM667.9 286.6l8.4 14.6h-16.8zM641.4 313.9l8.4 14.6h-16.8zM657.9 335.8l8.4 14.6h-16.8zM667.4 349.4l8.4 14.6h-16.8zM677.1 335l8.4 14.6h-16.8zM684.6 358.1l8.4 14.6h-16.8zM655.8 346l8.4 14.6h-16.8zM670.5 335.7l8.4 14.6h-16.8zM670.3 334l8.4 14.6h-16.8zM677.1 345l8.4 14.6h-16.8zM687 359.1l8.4 14.6h-16.8zM687.8 337l8.4 14.6h-16.8zM682.3 346.7l8.4 14.6h-16.8zM678.1 359.9l8.4 14.6h-16.8zM657.2 339.5l8.4 14.6h-16.8zM668.2 346.9l8.4 14.6h-16.8zM662.2 359.6l8.4 14.6h-16.8zM661.9 336l8.4 14.6h-16.8zM659.7 337l8.4 14.6h-16.8zM679.5 325.1l8.4 14.6h-16.8zM660.5 346.6l8.4 14.6h-16.8zM675.6 350.2l8.4 14.6h-16.8zM663.4 352.8l8.4 14.6h-16.8zM679.1 351.5l8.4 14.6h-16.8zM658.9 339.8l8.4 14.6h-16.8zM655.5 354.6l8.4 14.6h-16.8zM686.2 356l8.4 14.6h-16.8zM655.8 335.3l8.4 14.6h-16.8zM672.7 342.2l8.4 14.6h-16.8zM658.7 352l8.4 14.6h-16.8zM711.1 255l8.4 14.6h-16.8zM698.7 259.6l8.4 14.6h-16.8zM699.1 223.6l8.4 14.6h-16.8zM725.9 239l8.4 14.6h-16.8zM744.4 235.5l8.4 14.6h-16.8zM719 221l8.4 14.6h-16.8zM705.2 250.8l8.4 14.6h-16.8zM729.1 251.4l8.4 14.6h-16.8zM749.6 224.8l8.4 14.6h-16.8zM749.5 228.6l8.4 14.6h-16.8zM757.9 256.3l8.4 14.6h-16.8zM718.5 262.9l8.4 14.6h-16.8zM750.5 289.3l8.4 14.6h-16.8zM718.9 217.8l8.4 14.6h-16.8zM700.8 278.4l8.4 14.6h-16.8zM741.4 270.4l8.4 14.6h-16.8zM701 256.8l8.4 14.6h-16.8zM692 225.2l8.4 14.6h-16.8zM711.1 289.4l8.4 14.6h-16.8zM735 280.5l8.4 14.6h-16.8zM693.2 248.2l8.4 14.6h-16.8zM695.5 236.5l8.4 14.6h-16.8zM697.8 285.9l8.4 14.6h-16.8zM713 253.6l8.4 14.6h-16.8zM735.8 283.5l8.4 14.6h-16.8zM683 173.3l8.4 14.6h-16.8zM625.1 180l8.4 14.6h-16.8zM611.3 168l8.4 14.6h-16.8zM656.1 167.1l8.4 14.6h-16.8zM607.8 170.6l8.4 14.6h-16.8zM622 169.1l8.4 14.6h-16.8zM616 171l8.4 14.6h-16.8zM566.4 178.7l8.4 14.6h-16.8zM568 172.5l8.4 14.6h-16.8zM631.2 170l8.4 14.6h-16.8zM588.9 164l8.4 14.6h-16.8zM608.4 168.3l8.4 14.6h-16.8zM800.3 337l8.4 14.6h-16.8zM801.1 338.8l8.4 14.6h-16.8zM802.3 343l8.4 14.6h-16.8zM801.5 345.9l8.4 14.6h-16.8zM799.4 347.6l8.4 14.6h-16.8zM800.7 353l8.4 14.6h-16.8zM801.2 355.6l8.4 14.6h-16.8zM800.8 357.1l8.4 14.6h-16.8zM801.5 362l8.4 14.6h-16.8z" fill="#ff8000" stroke="none"/>
<polyline points="802,369 806,396 812,423.5 819.5,450.8 827,478 834,505 840,532.5 847,559.7 854,587 861,614.2 868,637.8 875,674.5 885,701.7 903.4,729 921.6,750.7 939.7,765 958,779.8 976,798 994,816 1012.4,830.6 1030.5,843.3 1048.7,854 1066.8,861.5 1085,863.3 1103,862.4 1112.7,858 1136.3,859.8 1152.7,852.6 1178,850.8 1190.8,847 1203.5,832.6 1227,829 1241.6,820 1268.9,820 1283.4,810 1308.8,810 1321.5,800 1336,798 1372.4,800 1383,789 1408.7,792.7 1436,796.3 1463,803.6 1481.3,810.8 1499.5,821.7 1516.3,830.8 1552.6,856.3 1565.3,870.8 1589,883.5 1616,901.7 1643.4,914.4 1679.7,934.3 1716,948.9 1752.4,963.4 1779.6,976 1790.5,988.8" stroke="#ff8000" stroke-width="17" stroke-linecap="butt"/>
<polyline points="434.5,535.8 507,554.9 561.6,571.2 616,584.8 670.5,598.5 725,613 745.3,620.1 781.6,629.2 792.5,632.9 799.7,643.8 817.9,647.4 836,649.2 849,653.2 867,660.5 894.3,674.5 921.6,685.4 957.9,700 994.2,714.4 1030.5,730.8 1066.8,747 1103,763.4 1139.5,779.8 1172.6,798 1236,827 1281.6,843.5 1336,867 1372.4,883.4 1426.8,899.8 1463,912.5 1499.5,925 1534.5,936 1570.8,947 1607,958 1643.4,968.8 1679.7,976 1716,981.5 1752.4,985 1788.7,988.8" stroke="#ff8000" stroke-width="17.5" stroke-linecap="butt"/>
<polyline points="792,641 812,650 835,654 852,660" stroke="#ff8000" stroke-width="24" stroke-linecap="butt"/>
<path d="M434.5 527.8l8.4 14.6h-16.8zM1790.5 978l8.4 14.6h-16.8z" fill="#ff8000" stroke="none"/>
<path d="M469 315.2l-8.4 -15h16.8zM470.7 344.2l-8.4 -15h16.8zM474.4 371.6l-8.4 -15h16.8zM477 440.6l-8.4 -15h16.8zM514.3 300.9l-8.4 -15h16.8zM512.5 317.2l-8.4 -15h16.8zM509 335.2l-8.4 -15h16.8zM506 360.8l-8.4 -15h16.8zM503.4 393.2l-8.4 -15h16.8zM500.7 431.6l-8.4 -15h16.8zM498 469.6l-8.4 -15h16.8zM501.3 432.8l-8.4 -15h16.8zM494.8 500.9l-8.4 -15h16.8zM492 525.2l-8.4 -15h16.8zM479.9 539l-8.4 -15h16.8zM489.9 543.5l-8.4 -15h16.8zM486.2 553.5l-8.4 -15h16.8zM483.9 561.8l-8.4 -15h16.8zM408 280.9l-8.4 -15h16.8zM424.5 285.9l-8.4 -15h16.8zM446 287.2l-8.4 -15h16.8zM467 290.9l-8.4 -15h16.8zM460 272.6l-8.4 -15h16.8zM441.7 271.8l-8.4 -15h16.8zM453.5 252.7l-8.4 -15h16.8zM449 232.8l-8.4 -15h16.8zM468.5 316.2l-8.4 -15h16.8zM512.5 318.1l-8.4 -15h16.8zM412.8 258.4l-8.4 -15h16.8zM388.8 226.7l-8.4 -15h16.8zM399.1 235.2l-8.4 -15h16.8zM427.4 242.7l-8.4 -15h16.8zM430.7 241.6l-8.4 -15h16.8zM400.9 254.9l-8.4 -15h16.8zM390.4 269.5l-8.4 -15h16.8zM429.2 238l-8.4 -15h16.8zM402.5 261.6l-8.4 -15h16.8zM427 253.1l-8.4 -15h16.8zM389 258.9l-8.4 -15h16.8zM388.5 252.2l-8.4 -15h16.8zM414.7 266.8l-8.4 -15h16.8zM419.2 223.3l-8.4 -15h16.8zM434.6 258.4l-8.4 -15h16.8zM416.2 222.5l-8.4 -15h16.8zM424.3 242.3l-8.4 -15h16.8zM421.3 269.5l-8.4 -15h16.8zM433.7 225.8l-8.4 -15h16.8zM426.6 243.4l-8.4 -15h16.8zM425.1 240.4l-8.4 -15h16.8zM409.3 243.2l-8.4 -15h16.8zM392.1 237.6l-8.4 -15h16.8zM424.2 225.7l-8.4 -15h16.8zM392 262.3l-8.4 -15h16.8zM420.6 248.6l-8.4 -15h16.8zM391.9 227.9l-8.4 -15h16.8zM402.1 268l-8.4 -15h16.8zM415.1 266.5l-8.4 -15h16.8zM397 242.2l-8.4 -15h16.8zM413.9 262.5l-8.4 -15h16.8zM392.4 264.2l-8.4 -15h16.8zM410.6 223.8l-8.4 -15h16.8zM408.5 240.4l-8.4 -15h16.8zM421.1 266.8l-8.4 -15h16.8zM411.7 255.3l-8.4 -15h16.8zM406.2 259.6l-8.4 -15h16.8zM391.5 257.9l-8.4 -15h16.8zM394.7 250.4l-8.4 -15h16.8zM396.5 238.9l-8.4 -15h16.8zM394.5 239l-8.4 -15h16.8zM416.8 247.2l-8.4 -15h16.8zM406.2 249.8l-8.4 -15h16.8zM429.8 239.4l-8.4 -15h16.8zM416.4 245.3l-8.4 -15h16.8zM437 238l-8.4 -15h16.8zM422.3 233.5l-8.4 -15h16.8zM399.6 257.3l-8.4 -15h16.8zM415.9 234.6l-8.4 -15h16.8zM389.3 261.8l-8.4 -15h16.8zM405.6 256.6l-8.4 -15h16.8zM408.5 251.9l-8.4 -15h16.8zM415.1 269.1l-8.4 -15h16.8zM433.3 244.1l-8.4 -15h16.8zM411.3 233.4l-8.4 -15h16.8zM425.2 227.2l-8.4 -15h16.8zM401.9 262.9l-8.4 -15h16.8zM387.8 255.8l-8.4 -15h16.8zM415.5 248.7l-8.4 -15h16.8zM403.3 229.5l-8.4 -15h16.8zM435.4 259l-8.4 -15h16.8zM427.9 226.9l-8.4 -15h16.8zM426.8 232.7l-8.4 -15h16.8zM396.4 247.9l-8.4 -15h16.8zM417.7 228l-8.4 -15h16.8zM425.8 250.2l-8.4 -15h16.8zM432.8 266.6l-8.4 -15h16.8zM421.8 239.7l-8.4 -15h16.8zM435.5 256.7l-8.4 -15h16.8zM401.1 263.4l-8.4 -15h16.8zM423.8 235l-8.4 -15h16.8zM399 223.2l-8.4 -15h16.8zM413.9 234.4l-8.4 -15h16.8zM401.2 234.4l-8.4 -15h16.8zM392.8 245.5l-8.4 -15h16.8zM400.2 235.9l-8.4 -15h16.8zM400.4 246.7l-8.4 -15h16.8zM431.4 229.9l-8.4 -15h16.8zM430.7 263.3l-8.4 -15h16.8zM417.7 248.4l-8.4 -15h16.8zM424.2 247.9l-8.4 -15h16.8zM420.3 266.4l-8.4 -15h16.8zM426.3 234.7l-8.4 -15h16.8zM388.8 267.2l-8.4 -15h16.8zM404.9 260l-8.4 -15h16.8zM380.2 282.6l-8.4 -15h16.8zM382.7 292.5l-8.4 -15h16.8zM393 284.5l-8.4 -15h16.8zM386.2 278.8l-8.4 -15h16.8zM380.2 300.4l-8.4 -15h16.8zM378 300.1l-8.4 -15h16.8zM387.8 268.8l-8.4 -15h16.8zM392.2 269.9l-8.4 -15h16.8zM386.2 270.6l-8.4 -15h16.8zM393.8 277.4l-8.4 -15h16.8zM391.7 268.5l-8.4 -15h16.8zM388 268.7l-8.4 -15h16.8zM376.5 286.8l-8.4 -15h16.8zM393.7 290.9l-8.4 -15h16.8zM391.4 294.5l-8.4 -15h16.8zM385.4 269l-8.4 -15h16.8zM385.5 272.9l-8.4 -15h16.8zM385.5 279l-8.4 -15h16.8zM385 273.4l-8.4 -15h16.8zM388.7 281.3l-8.4 -15h16.8zM384.7 269.1l-8.4 -15h16.8zM384.8 286.3l-8.4 -15h16.8zM393.5 286.5l-8.4 -15h16.8zM378.4 277.1l-8.4 -15h16.8zM382 291.5l-8.4 -15h16.8zM392.9 301.4l-8.4 -15h16.8zM393.1 299.6l-8.4 -15h16.8zM391.5 299.9l-8.4 -15h16.8zM376.4 283.9l-8.4 -15h16.8zM386.6 290.9l-8.4 -15h16.8zM387 288.3l-8.4 -15h16.8zM392.8 269.4l-8.4 -15h16.8zM385.3 300.8l-8.4 -15h16.8zM376.6 270.3l-8.4 -15h16.8zM391.6 300.7l-8.4 -15h16.8zM376.4 267.4l-8.4 -15h16.8zM390.9 291l-8.4 -15h16.8zM385.4 287.1l-8.4 -15h16.8zM389.6 295.3l-8.4 -15h16.8zM376 268.7l-8.4 -15h16.8zM390.3 301.4l-8.4 -15h16.8zM391 280.9l-8.4 -15h16.8zM382 278.7l-8.4 -15h16.8zM376.3 294l-8.4 -15h16.8zM380.7 287.3l-8.4 -15h16.8zM421.3 269l-8.4 -15h16.8zM428.7 271l-8.4 -15h16.8zM406.7 278.2l-8.4 -15h16.8zM403.8 265.8l-8.4 -15h16.8zM407.7 271.4l-8.4 -15h16.8zM434.2 268.9l-8.4 -15h16.8zM406.9 274.4l-8.4 -15h16.8zM408 272.1l-8.4 -15h16.8zM407.7 278.2l-8.4 -15h16.8zM404.2 267.2l-8.4 -15h16.8zM410.1 268.9l-8.4 -15h16.8zM431.3 274.7l-8.4 -15h16.8zM434.5 272.4l-8.4 -15h16.8zM398.9 276.2l-8.4 -15h16.8zM407.2 267l-8.4 -15h16.8zM415.7 280.1l-8.4 -15h16.8zM413.5 269.3l-8.4 -15h16.8zM440.6 280.1l-8.4 -15h16.8zM414.4 265.6l-8.4 -15h16.8zM434.5 276.5l-8.4 -15h16.8zM512.6 306.3l-8.4 -15h16.8zM513.5 301.4l-8.4 -15h16.8zM512.7 294.3l-8.4 -15h16.8zM512.5 298l-8.4 -15h16.8zM517.4 296.1l-8.4 -15h16.8zM515.6 295.6l-8.4 -15h16.8zM517.1 292.3l-8.4 -15h16.8zM517.6 300.2l-8.4 -15h16.8zM520.6 288.9l-8.4 -15h16.8zM515.7 297.8l-8.4 -15h16.8zM519.5 293.9l-8.4 -15h16.8zM519.3 286.9l-8.4 -15h16.8zM520.3 291.2l-8.4 -15h16.8zM521 281.2l-8.4 -15h16.8zM521.2 283l-8.4 -15h16.8zM519.5 284.7l-8.4 -15h16.8zM520.2 291.7l-8.4 -15h16.8zM522.3 282.5l-8.4 -15h16.8zM521.8 281.4l-8.4 -15h16.8zM522.5 281.8l-8.4 -15h16.8zM524.9 281.9l-8.4 -15h16.8zM522.4 276.2l-8.4 -15h16.8zM525.1 271.6l-8.4 -15h16.8zM526.3 275l-8.4 -15h16.8zM526.5 276.1l-8.4 -15h16.8zM526.2 279.9l-8.4 -15h16.8zM529.4 270.5l-8.4 -15h16.8zM529.2 274.7l-8.4 -15h16.8zM528.1 269.3l-8.4 -15h16.8zM531 259.4l-8.4 -15h16.8zM528.7 270.1l-8.4 -15h16.8zM532.3 264.1l-8.4 -15h16.8zM533.4 275.8l-8.4 -15h16.8zM533.3 266l-8.4 -15h16.8zM534.2 261.6l-8.4 -15h16.8zM536 265.9l-8.4 -15h16.8zM537.4 270.5l-8.4 -15h16.8zM537.5 265.1l-8.4 -15h16.8zM539 270.9l-8.4 -15h16.8zM537.4 263.4l-8.4 -15h16.8zM539.8 263.5l-8.4 -15h16.8zM543.1 262.8l-8.4 -15h16.8zM544.1 262.9l-8.4 -15h16.8zM543 259l-8.4 -15h16.8zM543.1 262.2l-8.4 -15h16.8zM545.8 264.4l-8.4 -15h16.8zM549 257.3l-8.4 -15h16.8zM547.1 263.1l-8.4 -15h16.8zM548.6 261.3l-8.4 -15h16.8zM552.1 258.7l-8.4 -15h16.8zM555 256.9l-8.4 -15h16.8zM554.1 258.2l-8.4 -15h16.8zM550.3 259l-8.4 -15h16.8zM555.6 261.8l-8.4 -15h16.8zM556.9 256.3l-8.4 -15h16.8zM557.5 257.9l-8.4 -15h16.8zM560.6 257.9l-8.4 -15h16.8zM562.5 262.4l-8.4 -15h16.8zM560.7 263.1l-8.4 -15h16.8zM559.6 259l-8.4 -15h16.8zM562.8 258.4l-8.4 -15h16.8zM567.2 258.7l-8.4 -15h16.8zM566.4 263.8l-8.4 -15h16.8zM566.7 255.3l-8.4 -15h16.8zM570.5 261l-8.4 -15h16.8zM568.1 259.1l-8.4 -15h16.8zM572.6 257.8l-8.4 -15h16.8zM572 258.9l-8.4 -15h16.8zM574.1 255.5l-8.4 -15h16.8zM576.3 251.9l-8.4 -15h16.8zM576.1 266.8l-8.4 -15h16.8zM575.8 258l-8.4 -15h16.8zM575.2 254.7l-8.4 -15h16.8zM578.1 258.3l-8.4 -15h16.8zM580.3 265.3l-8.4 -15h16.8zM580.8 257.8l-8.4 -15h16.8zM583.7 260.4l-8.4 -15h16.8zM586 251.5l-8.4 -15h16.8zM589.1 256.5l-8.4 -15h16.8zM585.9 251l-8.4 -15h16.8zM587.5 250.5l-8.4 -15h16.8zM589.7 255.1l-8.4 -15h16.8zM591.1 254.3l-8.4 -15h16.8zM591.9 266.3l-8.4 -15h16.8zM594.8 258l-8.4 -15h16.8zM592.7 263.1l-8.4 -15h16.8zM592.8 251.3l-8.4 -15h16.8zM598.5 254.4l-8.4 -15h16.8zM599.8 258.8l-8.4 -15h16.8zM602.2 263.5l-8.4 -15h16.8zM601 253.5l-8.4 -15h16.8zM602.1 261.5l-8.4 -15h16.8zM602.6 244l-8.4 -15h16.8zM603 253.9l-8.4 -15h16.8zM604.7 253.7l-8.4 -15h16.8zM607.7 249.8l-8.4 -15h16.8zM607.8 246.7l-8.4 -15h16.8zM605 250.4l-8.4 -15h16.8zM608.4 250.6l-8.4 -15h16.8zM609.6 256.4l-8.4 -15h16.8zM612.7 254l-8.4 -15h16.8zM613.3 250.7l-8.4 -15h16.8zM612.7 247.5l-8.4 -15h16.8zM614.7 248.5l-8.4 -15h16.8zM616.1 255.7l-8.4 -15h16.8zM618.5 257.8l-8.4 -15h16.8zM617.5 243.5l-8.4 -15h16.8zM618.4 260l-8.4 -15h16.8zM622.3 250.1l-8.4 -15h16.8zM624.4 249.9l-8.4 -15h16.8zM626.1 249.7l-8.4 -15h16.8zM624.2 253.9l-8.4 -15h16.8zM624.2 250.2l-8.4 -15h16.8zM630 252.4l-8.4 -15h16.8zM626.6 249.4l-8.4 -15h16.8zM629.4 247.1l-8.4 -15h16.8zM631.3 254.9l-8.4 -15h16.8zM631.9 253.2l-8.4 -15h16.8zM633.4 249.9l-8.4 -15h16.8zM633 252.9l-8.4 -15h16.8zM637.3 246.9l-8.4 -15h16.8zM635.1 250.5l-8.4 -15h16.8zM637.8 252.6l-8.4 -15h16.8zM639.5 247.2l-8.4 -15h16.8zM637.8 249.9l-8.4 -15h16.8zM641.2 242.1l-8.4 -15h16.8zM640 239.5l-8.4 -15h16.8zM644.3 244.8l-8.4 -15h16.8zM639.6 242.7l-8.4 -15h16.8zM644.8 245.5l-8.4 -15h16.8zM646.9 244.2l-8.4 -15h16.8zM649.2 249.4l-8.4 -15h16.8zM648.9 251.3l-8.4 -15h16.8zM650.2 241.2l-8.4 -15h16.8zM651.8 238.6l-8.4 -15h16.8zM652.2 239.8l-8.4 -15h16.8zM653.2 244.6l-8.4 -15h16.8zM651.3 245l-8.4 -15h16.8zM656.6 242.3l-8.4 -15h16.8zM658.4 244.2l-8.4 -15h16.8zM657.9 238.5l-8.4 -15h16.8zM660.8 245.3l-8.4 -15h16.8zM658.6 239l-8.4 -15h16.8zM660.2 245l-8.4 -15h16.8zM662.3 236.3l-8.4 -15h16.8zM666.6 242.9l-8.4 -15h16.8zM665.8 241.7l-8.4 -15h16.8zM666.4 240.6l-8.4 -15h16.8zM669.1 241.9l-8.4 -15h16.8zM668.3 240.2l-8.4 -15h16.8zM672.9 237.3l-8.4 -15h16.8zM669.3 239.7l-8.4 -15h16.8zM670.7 249.5l-8.4 -15h16.8zM674.5 241l-8.4 -15h16.8zM675.3 246.3l-8.4 -15h16.8zM674.4 237.9l-8.4 -15h16.8zM674.6 242.7l-8.4 -15h16.8zM678.1 244.6l-8.4 -15h16.8zM679 233l-8.4 -15h16.8zM679.5 240.1l-8.4 -15h16.8zM680.5 237.6l-8.4 -15h16.8zM681.8 233.4l-8.4 -15h16.8zM683.2 242.5l-8.4 -15h16.8zM683.6 237l-8.4 -15h16.8zM687.6 232.4l-8.4 -15h16.8zM708.2 243.9l-8.4 -15h16.8zM734 239l-8.4 -15h16.8zM709.3 234.1l-8.4 -15h16.8zM723.9 218l-8.4 -15h16.8zM723.1 246.1l-8.4 -15h16.8zM720.2 234l-8.4 -15h16.8zM710.7 233.3l-8.4 -15h16.8zM701.7 238.4l-8.4 -15h16.8zM715.2 247.4l-8.4 -15h16.8zM706.7 235.9l-8.4 -15h16.8zM692.7 223.1l-8.4 -15h16.8zM725 216.4l-8.4 -15h16.8zM718.4 214.7l-8.4 -15h16.8zM709.1 248l-8.4 -15h16.8zM700.5 244.5l-8.4 -15h16.8zM694.6 230.3l-8.4 -15h16.8zM727.3 241.3l-8.4 -15h16.8zM708.8 230.6l-8.4 -15h16.8zM722.6 238l-8.4 -15h16.8zM724.1 230.1l-8.4 -15h16.8zM702.8 235.6l-8.4 -15h16.8zM716.1 228.7l-8.4 -15h16.8zM734.4 211.1l-8.4 -15h16.8zM725.6 219.2l-8.4 -15h16.8zM723.2 246.1l-8.4 -15h16.8zM703.8 229.6l-8.4 -15h16.8zM714.7 226.5l-8.4 -15h16.8zM699.2 232.1l-8.4 -15h16.8zM730.4 233.8l-8.4 -15h16.8zM704.4 239.9l-8.4 -15h16.8zM710.1 211.5l-8.4 -15h16.8zM718.1 225l-8.4 -15h16.8zM714.8 247.9l-8.4 -15h16.8zM716.5 246.2l-8.4 -15h16.8zM707.2 237.9l-8.4 -15h16.8zM695.2 218.2l-8.4 -15h16.8zM721.8 234.9l-8.4 -15h16.8zM727.6 221.6l-8.4 -15h16.8zM703.8 220.7l-8.4 -15h16.8zM715.1 206.3l-8.4 -15h16.8zM708.1 233.5l-8.4 -15h16.8zM698.4 218.6l-8.4 -15h16.8zM729.5 245.4l-8.4 -15h16.8zM702.7 212.9l-8.4 -15h16.8zM697.1 208.9l-8.4 -15h16.8zM726.1 237l-8.4 -15h16.8zM703.4 226.3l-8.4 -15h16.8zM721.9 206.5l-8.4 -15h16.8zM727.2 242.2l-8.4 -15h16.8zM701.1 235.5l-8.4 -15h16.8zM722.1 219.7l-8.4 -15h16.8zM729.8 214.6l-8.4 -15h16.8zM712.4 218.7l-8.4 -15h16.8zM711 240.2l-8.4 -15h16.8zM716.5 231.4l-8.4 -15h16.8zM775.7 233.7l-8.4 -15h16.8zM757.3 248.8l-8.4 -15h16.8zM755.6 261.9l-8.4 -15h16.8zM760.2 242l-8.4 -15h16.8zM762.3 256.7l-8.4 -15h16.8zM774 251l-8.4 -15h16.8zM756.1 238.7l-8.4 -15h16.8zM769 233.5l-8.4 -15h16.8zM773.2 258.4l-8.4 -15h16.8zM757.4 239.1l-8.4 -15h16.8zM757.5 252.6l-8.4 -15h16.8zM753.1 251.7l-8.4 -15h16.8zM753.5 257.2l-8.4 -15h16.8zM765 247.4l-8.4 -15h16.8zM754.3 226.9l-8.4 -15h16.8zM760.5 262.7l-8.4 -15h16.8zM766.4 258l-8.4 -15h16.8zM753.5 229.1l-8.4 -15h16.8zM752.5 251.7l-8.4 -15h16.8zM756.2 235.6l-8.4 -15h16.8zM768 251.7l-8.4 -15h16.8zM759.7 243l-8.4 -15h16.8zM758.9 246.6l-8.4 -15h16.8zM760.5 238.9l-8.4 -15h16.8zM758 236.4l-8.4 -15h16.8zM758.3 225.9l-8.4 -15h16.8zM759.4 247.7l-8.4 -15h16.8zM758.4 229.5l-8.4 -15h16.8zM772.3 243.1l-8.4 -15h16.8zM764.3 237.1l-8.4 -15h16.8zM773.3 253.9l-8.4 -15h16.8zM766.9 250.3l-8.4 -15h16.8zM768.6 244.3l-8.4 -15h16.8zM761.9 240.1l-8.4 -15h16.8zM764.1 243.1l-8.4 -15h16.8zM455.9 265.2l-8.4 -15h16.8zM463.7 286.8l-8.4 -15h16.8zM446.7 234.6l-8.4 -15h16.8zM449 235.2l-8.4 -15h16.8zM463.9 270.5l-8.4 -15h16.8zM448.6 244.7l-8.4 -15h16.8zM466.1 283.4l-8.4 -15h16.8zM460.5 274.8l-8.4 -15h16.8zM462.3 260.5l-8.4 -15h16.8zM451.9 266.4l-8.4 -15h16.8zM466.4 292.7l-8.4 -15h16.8zM467.5 283.4l-8.4 -15h16.8zM442.2 248.1l-8.4 -15h16.8zM469.1 265.9l-8.4 -15h16.8zM747 240.1l-8.4 -15h16.8zM752.8 240.6l-8.4 -15h16.8zM751.6 244.6l-8.4 -15h16.8zM750.9 246.8l-8.4 -15h16.8zM752.5 250.6l-8.4 -15h16.8zM749.5 250.5l-8.4 -15h16.8zM743 251.6l-8.4 -15h16.8zM745.3 257l-8.4 -15h16.8zM747 256.4l-8.4 -15h16.8zM752.8 262l-8.4 -15h16.8zM755.4 260.5l-8.4 -15h16.8zM752 266.5l-8.4 -15h16.8zM748.3 266.1l-8.4 -15h16.8zM747.1 267.5l-8.4 -15h16.8zM754 271.2l-8.4 -15h16.8zM750.3 272.1l-8.4 -15h16.8zM757.1 276.9l-8.4 -15h16.8zM747.5 282l-8.4 -15h16.8zM750.5 279.5l-8.4 -15h16.8zM750.3 280.8l-8.4 -15h16.8zM754.4 281.2l-8.4 -15h16.8zM752.4 285.7l-8.4 -15h16.8zM758.6 289.4l-8.4 -15h16.8zM754.1 291.8l-8.4 -15h16.8zM754.7 293.2l-8.4 -15h16.8zM744.1 296l-8.4 -15h16.8zM751.7 298.8l-8.4 -15h16.8zM773 239.1l-8.4 -15h16.8zM769.4 239.7l-8.4 -15h16.8zM773.6 243.1l-8.4 -15h16.8zM770.2 244.2l-8.4 -15h16.8zM774.6 245.1l-8.4 -15h16.8zM773.4 246.8l-8.4 -15h16.8zM765.8 249.8l-8.4 -15h16.8zM774.7 252.8l-8.4 -15h16.8zM779.1 251.2l-8.4 -15h16.8zM777.2 254.8l-8.4 -15h16.8zM775.9 257.5l-8.4 -15h16.8zM778.8 254.8l-8.4 -15h16.8zM781.1 258.6l-8.4 -15h16.8zM774.6 259.1l-8.4 -15h16.8zM776.4 259.8l-8.4 -15h16.8zM781 264.4l-8.4 -15h16.8zM775 266.8l-8.4 -15h16.8zM779 266.9l-8.4 -15h16.8zM781.7 268.1l-8.4 -15h16.8zM778.1 270.8l-8.4 -15h16.8zM773.4 269l-8.4 -15h16.8zM781.3 275.1l-8.4 -15h16.8zM774.7 274.5l-8.4 -15h16.8zM778.3 275.5l-8.4 -15h16.8zM782.8 280.6l-8.4 -15h16.8zM787 281l-8.4 -15h16.8zM783.9 280.9l-8.4 -15h16.8zM776.4 282.9l-8.4 -15h16.8zM779.1 281.4l-8.4 -15h16.8zM783.9 282l-8.4 -15h16.8zM789.7 287.8l-8.4 -15h16.8zM785.8 289.1l-8.4 -15h16.8zM785.9 289.8l-8.4 -15h16.8zM788 289.8l-8.4 -15h16.8zM787.1 293l-8.4 -15h16.8zM789.3 291.9l-8.4 -15h16.8zM788.1 295.4l-8.4 -15h16.8zM789.9 298.2l-8.4 -15h16.8zM789.1 299.6l-8.4 -15h16.8zM790.4 302.9l-8.4 -15h16.8zM790.5 302.7l-8.4 -15h16.8zM787.1 302.7l-8.4 -15h16.8zM793.1 306.8l-8.4 -15h16.8zM788.1 306.1l-8.4 -15h16.8zM790.9 307.8l-8.4 -15h16.8zM790.8 308.3l-8.4 -15h16.8zM792.8 310.9l-8.4 -15h16.8zM796.9 310.4l-8.4 -15h16.8zM791.2 315.1l-8.4 -15h16.8zM796.6 314.6l-8.4 -15h16.8zM791.9 318.6l-8.4 -15h16.8zM792.8 320.2l-8.4 -15h16.8zM797.7 319.1l-8.4 -15h16.8zM797 322.5l-8.4 -15h16.8zM798.2 318.8l-8.4 -15h16.8zM796.6 319.5l-8.4 -15h16.8zM800.7 327.1l-8.4 -15h16.8zM803.4 324l-8.4 -15h16.8zM807.6 331.8l-8.4 -15h16.8zM801 325.7l-8.4 -15h16.8zM799.2 333.2l-8.4 -15h16.8zM809.3 331.5l-8.4 -15h16.8zM779.9 311.8l-8.4 -15h16.8zM778 304.2l-8.4 -15h16.8zM781 298.2l-8.4 -15h16.8zM744.9 249.8l-8.4 -15h16.8zM750 249.2l-8.4 -15h16.8zM745.9 250.7l-8.4 -15h16.8zM739.7 243.5l-8.4 -15h16.8zM744.8 240l-8.4 -15h16.8zM747.4 239.1l-8.4 -15h16.8zM745.5 241.9l-8.4 -15h16.8zM741.9 246.1l-8.4 -15h16.8zM683.2 272.3l-8.4 -15h16.8zM686.6 268.5l-8.4 -15h16.8zM679.9 277.8l-8.4 -15h16.8zM678.5 277.6l-8.4 -15h16.8zM679.4 280.6l-8.4 -15h16.8zM674.7 283.8l-8.4 -15h16.8zM676.4 287.3l-8.4 -15h16.8zM678 290.2l-8.4 -15h16.8zM673 299.1l-8.4 -15h16.8zM672.7 295.3l-8.4 -15h16.8zM672.1 297.3l-8.4 -15h16.8zM666.8 301.9l-8.4 -15h16.8zM675 300.7l-8.4 -15h16.8zM667.4 308.1l-8.4 -15h16.8zM666.6 311.1l-8.4 -15h16.8zM659.8 243.8l-8.4 -15h16.8zM661.7 247.6l-8.4 -15h16.8zM667.4 240.9l-8.4 -15h16.8zM669.5 257.9l-8.4 -15h16.8zM671.1 254.9l-8.4 -15h16.8zM671 256.8l-8.4 -15h16.8zM675.1 251.7l-8.4 -15h16.8zM673.6 249l-8.4 -15h16.8zM682.7 260.5l-8.4 -15h16.8zM688 262.3l-8.4 -15h16.8zM689 257.3l-8.4 -15h16.8zM681.4 261.8l-8.4 -15h16.8zM690.2 267l-8.4 -15h16.8zM693.6 266.3l-8.4 -15h16.8zM696.9 269.5l-8.4 -15h16.8zM700.2 271.2l-8.4 -15h16.8z" fill="#808000" stroke="none"/>
<polyline points="745,215 759.8,221.3 774.3,249 783,278 796,307 807.7,336 814.3,360 816,387 823.3,414.5 832.4,441.7 839.7,469 847.8,496 854.2,523.4 860.5,550.6 867,577.9 873.3,605 878.7,632.4 883.4,656.3 890.7,683.5 903.4,707 921.6,727 943.4,746 963.3,759.5 976,774 994,786 1012.4,798 1030.5,810.6 1045,825 1054,843.3 1066.8,856 1085,874 1103,887 1118,896 1145.4,903.4 1172.6,905.2 1199.9,899.8 1227,898 1254.3,888.9 1281.6,881.6 1317.9,868.9 1354.2,859.8 1381.4,857 1408.7,858.9 1445,868.9 1481.3,879.8 1499.5,888.9 1516.3,898 1552.6,916 1589,932.5 1625.3,952.5 1661.6,974.3 1688.8,994.3 1716,1008.8 1752.4,1027 1788.7,1045 1825,1065 1850.5,1080 1886.8,1103.6 1923,1127 1956.3,1149 1992.6,1167.2 2029,1178 2065.3,1183.6 2101.6,1189 2137.9,1194.4 2156,1197.2" stroke="#808000" stroke-width="15.4" stroke-linecap="butt"/>
<path d="M2156 1205.5l-8.4 -15h16.8z" fill="#808000" stroke="none"/>
<polyline points="451.4,949.8 508.3,966 589.4,984.2 670.6,999 751.8,1012.6 833,1023.4 914.2,1033 1000,1041.6 1030.8,1047 1121.6,1059.8 1212.4,1072.5 1303,1083.4 1339.5,1088.8 1560,1122.6 1650.8,1136.2 1741.6,1149 1832.4,1159.8 1923,1170.7 1974.5,1176.3 2065,1184 2156,1197" stroke="#808000" stroke-width="15.2" stroke-linecap="butt"/>
<path d="M451.4 958l-8.4 -15h16.8z" fill="#808000" stroke="none"/>
</g>
<g stroke="#000" stroke-width="7" stroke-linecap="round" fill="none">
<line x1="302.5" y1="20.1" x2="302.5" y2="1533.9" stroke-linecap="butt"/>
<path d="M287.3 1494.9H302.5M287.3 1474.1H302.5M287.3 1459.4H302.5M287.3 1448H302.5M287.3 1438.7H302.5M287.3 1430.8H302.5M287.3 1423.9H302.5M287.3 1417.9H302.5M272.5 1412.5H302.5M287.3 1377H302.5M287.3 1356.2H302.5M287.3 1341.5H302.5M287.3 1330.1H302.5M287.3 1320.8H302.5M287.3 1312.9H302.5M287.3 1306H302.5M287.3 1300H302.5M272.5 1294.6H302.5M287.3 1259.1H302.5M287.3 1238.3H302.5M287.3 1223.6H302.5M287.3 1212.2H302.5M287.3 1202.9H302.5M287.3 1195H302.5M287.3 1188.1H302.5M287.3 1182.1H302.5M272.5 1176.7H302.5M287.3 1141.2H302.5M287.3 1120.4H302.5M287.3 1105.7H302.5M287.3 1094.3H302.5M287.3 1085H302.5M287.3 1077.1H302.5M287.3 1070.2H302.5M287.3 1064.2H302.5M272.5 1058.8H302.5M287.3 1023.3H302.5M287.3 1002.5H302.5M287.3 987.8H302.5M287.3 976.4H302.5M287.3 967.1H302.5M287.3 959.2H302.5M287.3 952.3H302.5M287.3 946.3H302.5M272.5 940.9H302.5M287.3 905.4H302.5M287.3 884.6H302.5M287.3 869.9H302.5M287.3 858.5H302.5M287.3 849.2H302.5M287.3 841.3H302.5M287.3 834.4H302.5M287.3 828.4H302.5M272.5 823H302.5M287.3 787.5H302.5M287.3 766.7H302.5M287.3 752H302.5M287.3 740.6H302.5M287.3 731.3H302.5M287.3 723.4H302.5M287.3 716.5H302.5M287.3 710.5H302.5M272.5 705.1H302.5M287.3 669.6H302.5M287.3 648.8H302.5M287.3 634.1H302.5M287.3 622.7H302.5M287.3 613.4H302.5M287.3 605.5H302.5M287.3 598.6H302.5M287.3 592.6H302.5M272.5 587.2H302.5M287.3 551.7H302.5M287.3 530.9H302.5M287.3 516.2H302.5M287.3 504.8H302.5M287.3 495.5H302.5M287.3 487.6H302.5M287.3 480.7H302.5M287.3 474.7H302.5M272.5 469.3H302.5M287.3 433.8H302.5M287.3 413H302.5M287.3 398.3H302.5M287.3 386.9H302.5M287.3 377.6H302.5M287.3 369.7H302.5M287.3 362.8H302.5M287.3 356.8H302.5M272.5 351.4H302.5M287.3 315.9H302.5M287.3 295.1H302.5M287.3 280.4H302.5M287.3 269H302.5M287.3 259.7H302.5M287.3 251.8H302.5M287.3 244.9H302.5M287.3 238.9H302.5M272.5 233.5H302.5M287.3 198H302.5M287.3 177.2H302.5M287.3 162.5H302.5M287.3 151.1H302.5M287.3 141.8H302.5M287.3 133.9H302.5M287.3 127H302.5M287.3 121H302.5M272.5 115.6H302.5M287.3 80.1H302.5M287.3 59.3H302.5M287.3 44.6H302.5M287.3 33.2H302.5M287.3 23.9H302.5"/>
<line x1="272.5" y1="1530.4" x2="2337.8" y2="1530.4"/>
<line x1="2337.8" y1="1526.9" x2="2337.8" y2="1530.4" stroke-linecap="butt"/>
<path d="M327.8 1530.4V1559.5M579.1 1530.4V1545.5M830.3 1530.4V1559.5M1081.5 1530.4V1545.5M1332.8 1530.4V1559.5M1584 1530.4V1545.5M1835.3 1530.4V1559.5M2086.6 1530.4V1545.5M2337.8 1530.4V1559.5"/>
</g>
<g font-family="'Liberation Sans', Arial, sans-serif" fill="#000" style="font-kerning:none">
<text x="251.6" y="1552.6" text-anchor="end" font-size="58"><tspan>10</tspan><tspan font-size="35" dy="-33">-2</tspan></text>
<text x="251.6" y="1434.7" text-anchor="end" font-size="58"><tspan>10</tspan><tspan font-size="35" dy="-33">-1</tspan></text>
<text x="251.6" y="1316.8" text-anchor="end" font-size="58"><tspan>10</tspan><tspan font-size="35" dy="-33">0</tspan></text>
<text x="251.6" y="1198.9" text-anchor="end" font-size="58"><tspan>10</tspan><tspan font-size="35" dy="-33">1</tspan></text>
<text x="251.6" y="1081" text-anchor="end" font-size="58"><tspan>10</tspan><tspan font-size="35" dy="-33">2</tspan></text>
<text x="251.6" y="963.1" text-anchor="end" font-size="58"><tspan>10</tspan><tspan font-size="35" dy="-33">3</tspan></text>
<text x="251.6" y="845.2" text-anchor="end" font-size="58"><tspan>10</tspan><tspan font-size="35" dy="-33">4</tspan></text>
<text x="251.6" y="727.3" text-anchor="end" font-size="58"><tspan>10</tspan><tspan font-size="35" dy="-33">5</tspan></text>
<text x="251.6" y="609.4" text-anchor="end" font-size="58"><tspan>10</tspan><tspan font-size="35" dy="-33">6</tspan></text>
<text x="251.6" y="491.5" text-anchor="end" font-size="58"><tspan>10</tspan><tspan font-size="35" dy="-33">7</tspan></text>
<text x="251.6" y="373.6" text-anchor="end" font-size="58"><tspan>10</tspan><tspan font-size="35" dy="-33">8</tspan></text>
<text x="251.6" y="255.7" text-anchor="end" font-size="58"><tspan>10</tspan><tspan font-size="35" dy="-33">9</tspan></text>
<text x="251.6" y="137.8" text-anchor="end" font-size="58"><tspan>10</tspan><tspan font-size="35" dy="-33">10</tspan></text>
<text x="327.8" y="1627" text-anchor="middle" font-size="58">0</text>
<text x="830.3" y="1627" text-anchor="middle" font-size="58">200</text>
<text x="1332.8" y="1627" text-anchor="middle" font-size="58">400</text>
<text x="1835.3" y="1627" text-anchor="middle" font-size="58">600</text>
<text x="2337.8" y="1627" text-anchor="middle" font-size="58">800</text>
<text transform="translate(96.4 950.5) rotate(-90)" font-size="72.3">R, Ohm</text>
<text x="1249.5" y="1757" font-size="73">T <tspan font-size="44" dy="-40">o</tspan><tspan dy="40">C</tspan></text>
</g>
<rect x="1490.2" y="43.3" width="802.6" height="720" fill="#fff" stroke="#000" stroke-width="3.1"/>
<g font-family="'Liberation Sans', Arial, sans-serif" fill="#000" font-size="39.5" style="font-kerning:none">
<text x="1528.5" y="117.2">f = 1 kHZ</text>
<text x="1626.8" y="165.3">TiO<tspan font-size="22.5" dy="15">2</tspan><tspan dy="-15"> Sol-Gel, heating</tspan></text>
<text x="1626.8" y="226.5">TiO<tspan font-size="22.5" dy="15">2</tspan><tspan dy="-15"> Sol-Gel, cooling</tspan></text>
<text x="1626.8" y="287.7">Degussa P25 TiO<tspan font-size="22.5" dy="15">2</tspan><tspan dy="-15">:0.5% Co, heating</tspan></text>
<text x="1626.8" y="348.9">Degussa P25 TiO<tspan font-size="22.5" dy="15">2</tspan><tspan dy="-15">:0.5% Co, cooling</tspan></text>
<text x="1626.8" y="410.1">Degussa P25 TiO<tspan font-size="22.5" dy="15">2</tspan><tspan dy="-15">:2% Co, heating</tspan></text>
<text x="1626.8" y="471.3">Degussa P25 TiO<tspan font-size="22.5" dy="15">2</tspan><tspan dy="-15">:2% Co, cooling</tspan></text>
<text x="1626.8" y="532.5">Degussa P25 TiO<tspan font-size="22.5" dy="15">2</tspan><tspan dy="-15">:5% Co, heating</tspan></text>
<text x="1626.8" y="593.7">Degussa P25 TiO<tspan font-size="22.5" dy="15">2</tspan><tspan dy="-15">:5% Co, cooling</tspan></text>
<text x="1626.8" y="654.9">Degussa P25 TiO<tspan font-size="22.5" dy="15">2</tspan><tspan dy="-15">:10% Co, heating</tspan></text>
<text x="1626.8" y="716.1">Degussa P25 TiO<tspan font-size="22.5" dy="15">2</tspan><tspan dy="-15">:10% Co, cooling</tspan></text>
</g>
<g shape-rendering="crispEdges">
<path d="M1564.5 152h15M1572 144.5v15" stroke="#000" stroke-width="1.8" fill="none"/>
<path d="M1564.5 213.2h15M1572 205.7v15" stroke="#000" stroke-width="1.8" fill="none"/>
<path d="M1565 267.4h14v14h-14z" fill="#ff0000"/>
<path d="M1565 328.6h14v14h-14z" fill="#ff0000"/>
<path d="M1565.4 396.8a6.6 6.6 0 1 0 13.2 0a6.6 6.6 0 1 0 -13.2 0z" fill="#0000ff"/>
<path d="M1565.4 458a6.6 6.6 0 1 0 13.2 0a6.6 6.6 0 1 0 -13.2 0z" fill="#0000ff"/>
<path d="M1572 512.4l8.2 14.2h-16.4z" fill="#ff8000"/>
<path d="M1572 573.6l8.2 14.2h-16.4z" fill="#ff8000"/>
<path d="M1572 648.6l-8.2 -14.6h16.4z" fill="#808000"/>
<path d="M1572 709.8l-8.2 -14.6h16.4z" fill="#808000"/>
</g>
</svg>
</body></html>
